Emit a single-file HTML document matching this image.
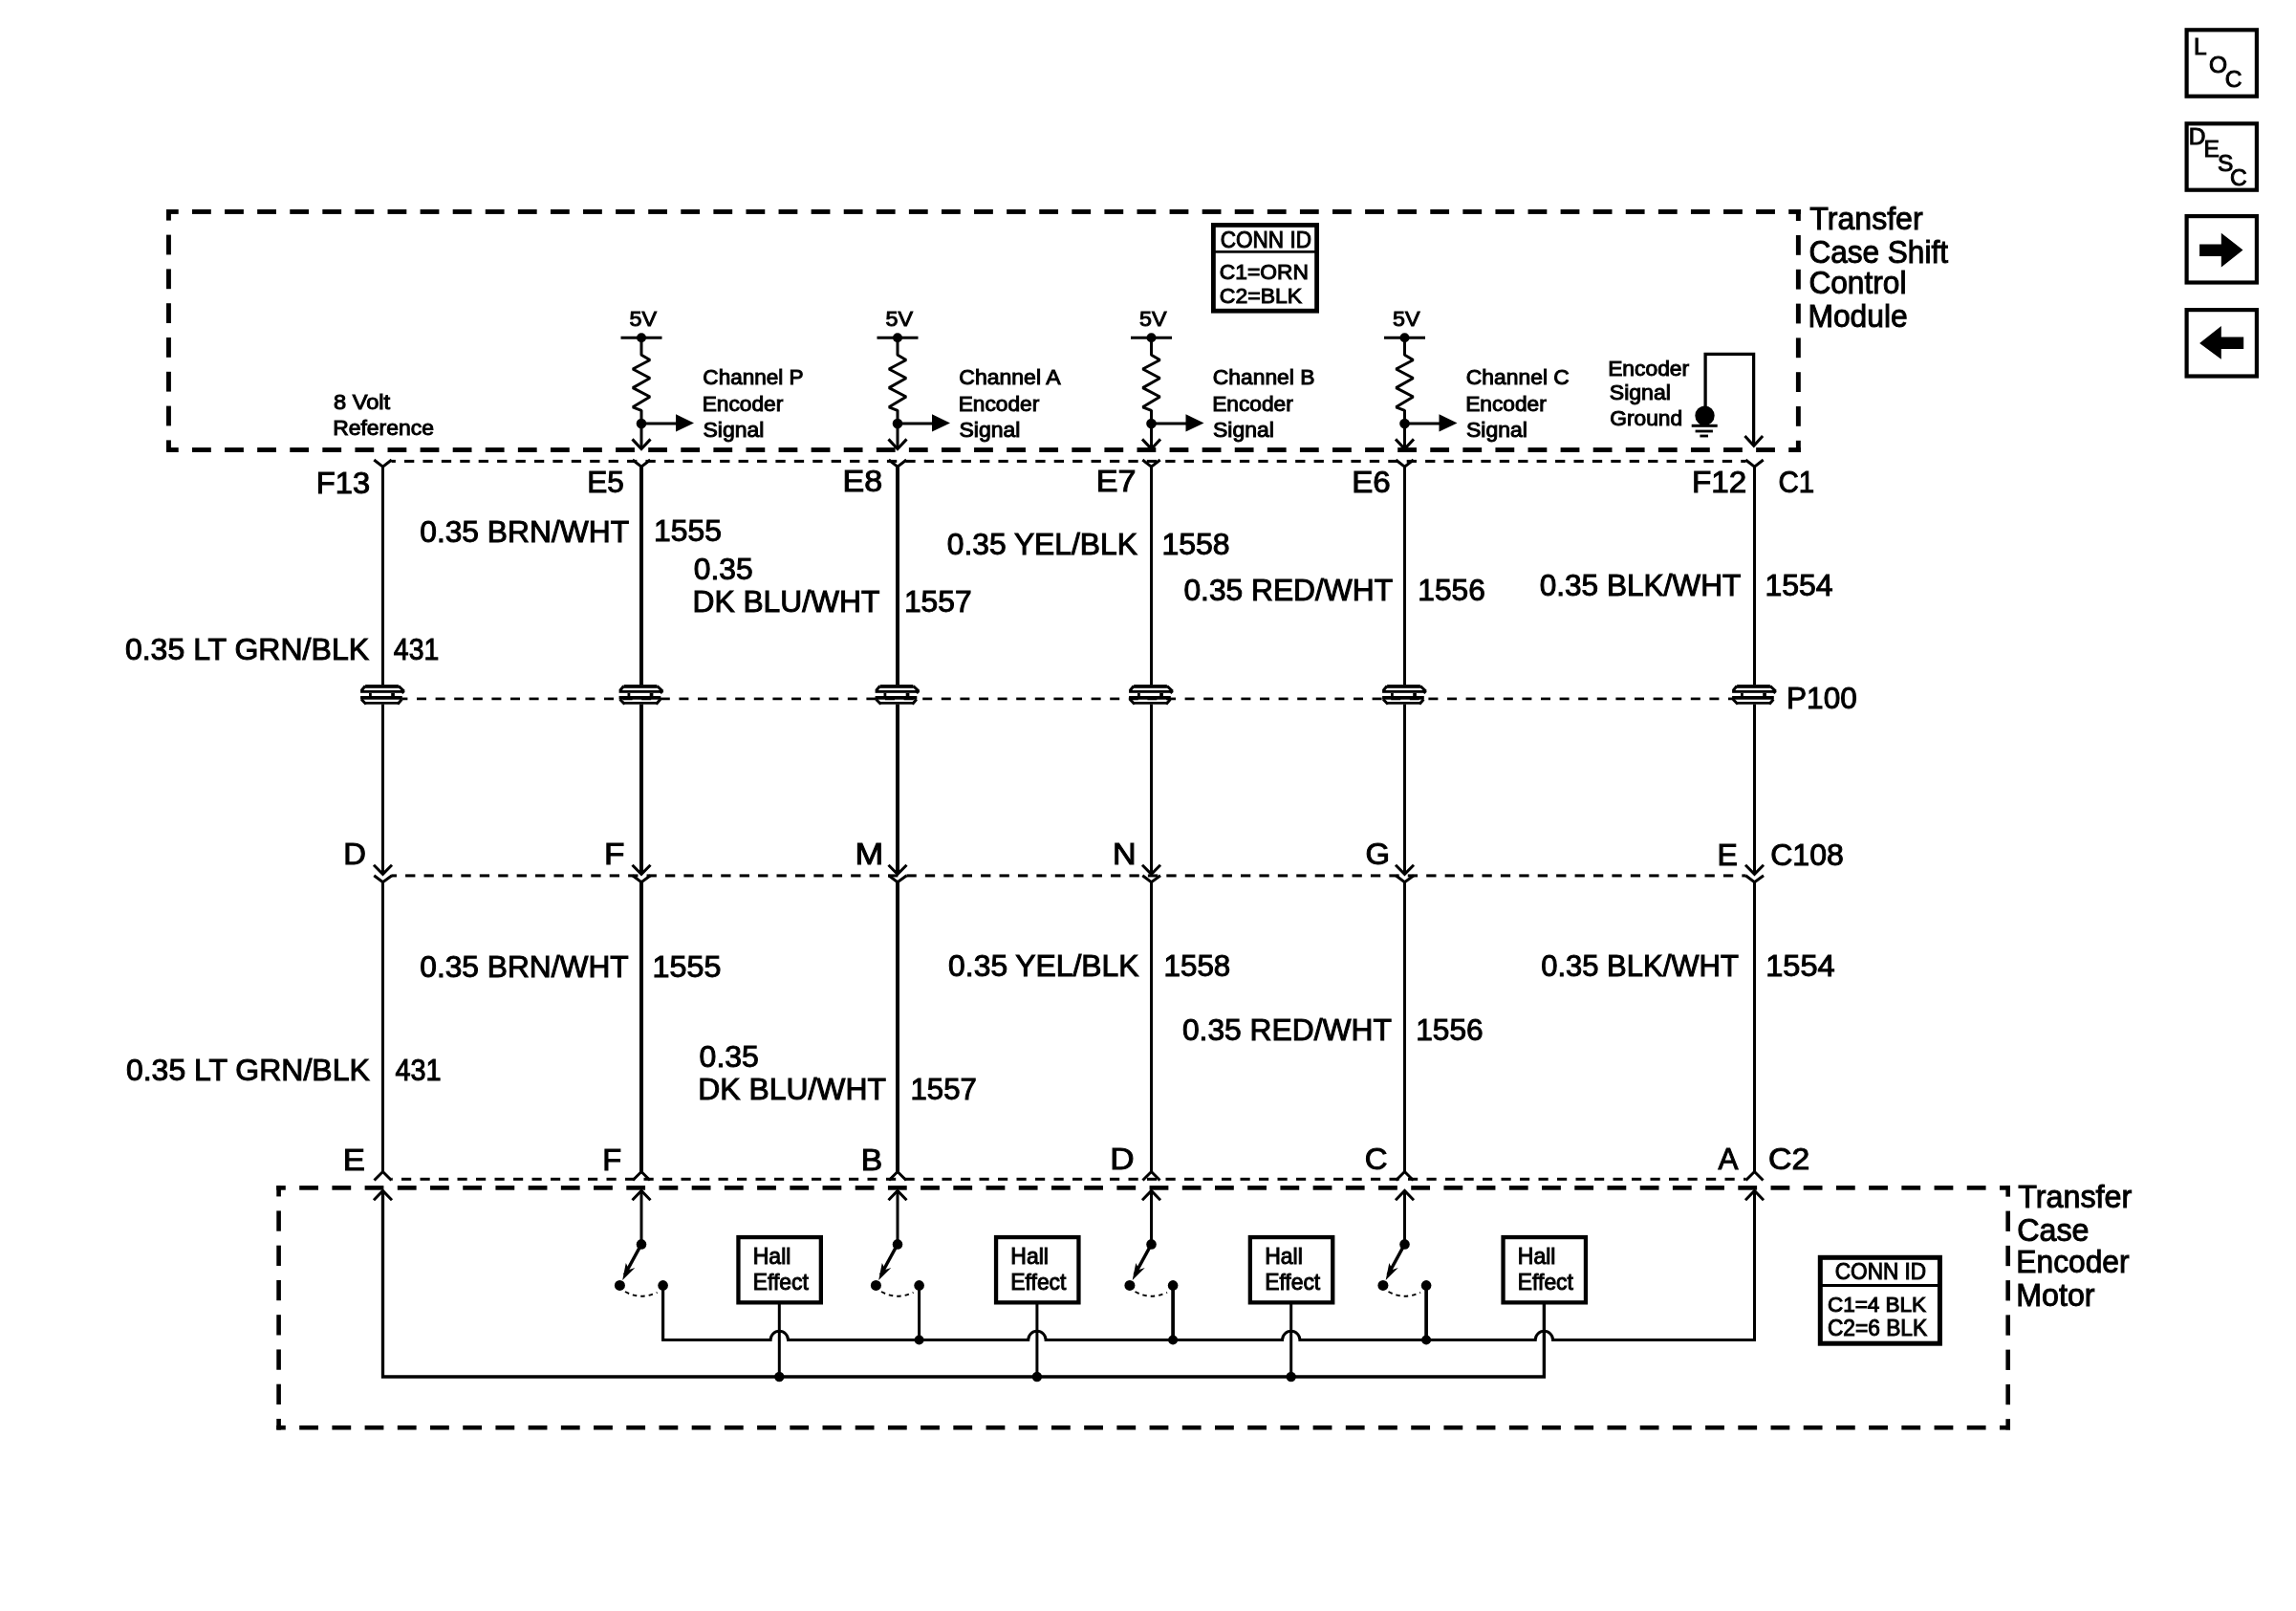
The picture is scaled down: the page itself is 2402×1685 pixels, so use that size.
<!DOCTYPE html>
<html><head><meta charset="utf-8"><style>
html,body{margin:0;padding:0;background:#fff;}
svg{display:block;will-change:transform;}
text{font-family:"Liberation Sans",sans-serif;fill:#000;}
</style></head><body>
<svg width="2402" height="1685" viewBox="0 0 2402 1685">
<rect width="2402" height="1685" fill="#fff"/>
<g stroke="#000" fill="none">
<rect x="2287.6" y="31.3" width="73.3" height="69.4" fill="none" stroke-width="4.2"/>
<rect x="2287.6" y="129.3" width="73.3" height="69.4" fill="none" stroke-width="4.2"/>
<rect x="2287.6" y="226.1" width="73.3" height="69.4" fill="none" stroke-width="4.2"/>
<rect x="2287.6" y="324.1" width="73.3" height="69.4" fill="none" stroke-width="4.2"/>
<text x="2294.94" y="57.3" font-size="24.5">L</text>
<text x="2310.9" y="75.6" font-size="24.5">O</text>
<text x="2327.78" y="91.2" font-size="24.5">C</text>
<text x="2289.74" y="150.6" font-size="24.5">D</text>
<text x="2305.44" y="163.7" font-size="24.5">E</text>
<text x="2320.1" y="178.5" font-size="24.5">S</text>
<text x="2332.97" y="194.2" font-size="24.5">C</text>
<polygon points="2301.1,255.4 2323.8,255.4 2323.8,243.7 2346.5,261.4 2323.8,279.4 2323.8,267.9 2301.1,267.9" fill="#000" stroke="none"/>
<polygon points="2347.2,352.4 2323.8,352.4 2323.8,340.9 2301.1,359.1 2323.8,375.8 2323.8,364.9 2347.2,364.9" fill="#000" stroke="none"/>
<rect x="174" y="219" width="12.71" height="4.9" fill="#000" stroke="none"/>
<rect x="201" y="219" width="19.8" height="4.9" fill="#000" stroke="none"/>
<rect x="235.09" y="219" width="19.8" height="4.9" fill="#000" stroke="none"/>
<rect x="269.17" y="219" width="19.8" height="4.9" fill="#000" stroke="none"/>
<rect x="303.26" y="219" width="19.8" height="4.9" fill="#000" stroke="none"/>
<rect x="337.34" y="219" width="19.8" height="4.9" fill="#000" stroke="none"/>
<rect x="371.43" y="219" width="19.8" height="4.9" fill="#000" stroke="none"/>
<rect x="405.52" y="219" width="19.8" height="4.9" fill="#000" stroke="none"/>
<rect x="439.6" y="219" width="19.8" height="4.9" fill="#000" stroke="none"/>
<rect x="473.69" y="219" width="19.8" height="4.9" fill="#000" stroke="none"/>
<rect x="507.77" y="219" width="19.8" height="4.9" fill="#000" stroke="none"/>
<rect x="541.86" y="219" width="19.8" height="4.9" fill="#000" stroke="none"/>
<rect x="575.95" y="219" width="19.8" height="4.9" fill="#000" stroke="none"/>
<rect x="610.03" y="219" width="19.8" height="4.9" fill="#000" stroke="none"/>
<rect x="644.12" y="219" width="19.8" height="4.9" fill="#000" stroke="none"/>
<rect x="678.2" y="219" width="19.8" height="4.9" fill="#000" stroke="none"/>
<rect x="712.29" y="219" width="19.8" height="4.9" fill="#000" stroke="none"/>
<rect x="746.38" y="219" width="19.8" height="4.9" fill="#000" stroke="none"/>
<rect x="780.46" y="219" width="19.8" height="4.9" fill="#000" stroke="none"/>
<rect x="814.55" y="219" width="19.8" height="4.9" fill="#000" stroke="none"/>
<rect x="848.63" y="219" width="19.8" height="4.9" fill="#000" stroke="none"/>
<rect x="882.72" y="219" width="19.8" height="4.9" fill="#000" stroke="none"/>
<rect x="916.81" y="219" width="19.8" height="4.9" fill="#000" stroke="none"/>
<rect x="950.89" y="219" width="19.8" height="4.9" fill="#000" stroke="none"/>
<rect x="984.98" y="219" width="19.8" height="4.9" fill="#000" stroke="none"/>
<rect x="1019.06" y="219" width="19.8" height="4.9" fill="#000" stroke="none"/>
<rect x="1053.15" y="219" width="19.8" height="4.9" fill="#000" stroke="none"/>
<rect x="1087.24" y="219" width="19.8" height="4.9" fill="#000" stroke="none"/>
<rect x="1121.32" y="219" width="19.8" height="4.9" fill="#000" stroke="none"/>
<rect x="1155.41" y="219" width="19.8" height="4.9" fill="#000" stroke="none"/>
<rect x="1189.49" y="219" width="19.8" height="4.9" fill="#000" stroke="none"/>
<rect x="1223.58" y="219" width="19.8" height="4.9" fill="#000" stroke="none"/>
<rect x="1257.67" y="219" width="19.8" height="4.9" fill="#000" stroke="none"/>
<rect x="1291.75" y="219" width="19.8" height="4.9" fill="#000" stroke="none"/>
<rect x="1325.84" y="219" width="19.8" height="4.9" fill="#000" stroke="none"/>
<rect x="1359.92" y="219" width="19.8" height="4.9" fill="#000" stroke="none"/>
<rect x="1394.01" y="219" width="19.8" height="4.9" fill="#000" stroke="none"/>
<rect x="1428.1" y="219" width="19.8" height="4.9" fill="#000" stroke="none"/>
<rect x="1462.18" y="219" width="19.8" height="4.9" fill="#000" stroke="none"/>
<rect x="1496.27" y="219" width="19.8" height="4.9" fill="#000" stroke="none"/>
<rect x="1530.35" y="219" width="19.8" height="4.9" fill="#000" stroke="none"/>
<rect x="1564.44" y="219" width="19.8" height="4.9" fill="#000" stroke="none"/>
<rect x="1598.53" y="219" width="19.8" height="4.9" fill="#000" stroke="none"/>
<rect x="1632.61" y="219" width="19.8" height="4.9" fill="#000" stroke="none"/>
<rect x="1666.7" y="219" width="19.8" height="4.9" fill="#000" stroke="none"/>
<rect x="1700.78" y="219" width="19.8" height="4.9" fill="#000" stroke="none"/>
<rect x="1734.87" y="219" width="19.8" height="4.9" fill="#000" stroke="none"/>
<rect x="1768.96" y="219" width="19.8" height="4.9" fill="#000" stroke="none"/>
<rect x="1803.04" y="219" width="19.8" height="4.9" fill="#000" stroke="none"/>
<rect x="1837.13" y="219" width="19.8" height="4.9" fill="#000" stroke="none"/>
<rect x="1871.21" y="219" width="12.59" height="4.9" fill="#000" stroke="none"/>
<rect x="174" y="468.1" width="12.71" height="4.9" fill="#000" stroke="none"/>
<rect x="201" y="468.1" width="19.8" height="4.9" fill="#000" stroke="none"/>
<rect x="235.09" y="468.1" width="19.8" height="4.9" fill="#000" stroke="none"/>
<rect x="269.17" y="468.1" width="19.8" height="4.9" fill="#000" stroke="none"/>
<rect x="303.26" y="468.1" width="19.8" height="4.9" fill="#000" stroke="none"/>
<rect x="337.34" y="468.1" width="19.8" height="4.9" fill="#000" stroke="none"/>
<rect x="371.43" y="468.1" width="19.8" height="4.9" fill="#000" stroke="none"/>
<rect x="405.52" y="468.1" width="19.8" height="4.9" fill="#000" stroke="none"/>
<rect x="439.6" y="468.1" width="19.8" height="4.9" fill="#000" stroke="none"/>
<rect x="473.69" y="468.1" width="19.8" height="4.9" fill="#000" stroke="none"/>
<rect x="507.77" y="468.1" width="19.8" height="4.9" fill="#000" stroke="none"/>
<rect x="541.86" y="468.1" width="19.8" height="4.9" fill="#000" stroke="none"/>
<rect x="575.95" y="468.1" width="19.8" height="4.9" fill="#000" stroke="none"/>
<rect x="610.03" y="468.1" width="19.8" height="4.9" fill="#000" stroke="none"/>
<rect x="644.12" y="468.1" width="19.8" height="4.9" fill="#000" stroke="none"/>
<rect x="678.2" y="468.1" width="19.8" height="4.9" fill="#000" stroke="none"/>
<rect x="712.29" y="468.1" width="19.8" height="4.9" fill="#000" stroke="none"/>
<rect x="746.38" y="468.1" width="19.8" height="4.9" fill="#000" stroke="none"/>
<rect x="780.46" y="468.1" width="19.8" height="4.9" fill="#000" stroke="none"/>
<rect x="814.55" y="468.1" width="19.8" height="4.9" fill="#000" stroke="none"/>
<rect x="848.63" y="468.1" width="19.8" height="4.9" fill="#000" stroke="none"/>
<rect x="882.72" y="468.1" width="19.8" height="4.9" fill="#000" stroke="none"/>
<rect x="916.81" y="468.1" width="19.8" height="4.9" fill="#000" stroke="none"/>
<rect x="950.89" y="468.1" width="19.8" height="4.9" fill="#000" stroke="none"/>
<rect x="984.98" y="468.1" width="19.8" height="4.9" fill="#000" stroke="none"/>
<rect x="1019.06" y="468.1" width="19.8" height="4.9" fill="#000" stroke="none"/>
<rect x="1053.15" y="468.1" width="19.8" height="4.9" fill="#000" stroke="none"/>
<rect x="1087.24" y="468.1" width="19.8" height="4.9" fill="#000" stroke="none"/>
<rect x="1121.32" y="468.1" width="19.8" height="4.9" fill="#000" stroke="none"/>
<rect x="1155.41" y="468.1" width="19.8" height="4.9" fill="#000" stroke="none"/>
<rect x="1189.49" y="468.1" width="19.8" height="4.9" fill="#000" stroke="none"/>
<rect x="1223.58" y="468.1" width="19.8" height="4.9" fill="#000" stroke="none"/>
<rect x="1257.67" y="468.1" width="19.8" height="4.9" fill="#000" stroke="none"/>
<rect x="1291.75" y="468.1" width="19.8" height="4.9" fill="#000" stroke="none"/>
<rect x="1325.84" y="468.1" width="19.8" height="4.9" fill="#000" stroke="none"/>
<rect x="1359.92" y="468.1" width="19.8" height="4.9" fill="#000" stroke="none"/>
<rect x="1394.01" y="468.1" width="19.8" height="4.9" fill="#000" stroke="none"/>
<rect x="1428.1" y="468.1" width="19.8" height="4.9" fill="#000" stroke="none"/>
<rect x="1462.18" y="468.1" width="19.8" height="4.9" fill="#000" stroke="none"/>
<rect x="1496.27" y="468.1" width="19.8" height="4.9" fill="#000" stroke="none"/>
<rect x="1530.35" y="468.1" width="19.8" height="4.9" fill="#000" stroke="none"/>
<rect x="1564.44" y="468.1" width="19.8" height="4.9" fill="#000" stroke="none"/>
<rect x="1598.53" y="468.1" width="19.8" height="4.9" fill="#000" stroke="none"/>
<rect x="1632.61" y="468.1" width="19.8" height="4.9" fill="#000" stroke="none"/>
<rect x="1666.7" y="468.1" width="19.8" height="4.9" fill="#000" stroke="none"/>
<rect x="1700.78" y="468.1" width="19.8" height="4.9" fill="#000" stroke="none"/>
<rect x="1734.87" y="468.1" width="19.8" height="4.9" fill="#000" stroke="none"/>
<rect x="1768.96" y="468.1" width="19.8" height="4.9" fill="#000" stroke="none"/>
<rect x="1803.04" y="468.1" width="19.8" height="4.9" fill="#000" stroke="none"/>
<rect x="1837.13" y="468.1" width="19.8" height="4.9" fill="#000" stroke="none"/>
<rect x="1871.21" y="468.1" width="12.59" height="4.9" fill="#000" stroke="none"/>
<rect x="174" y="219" width="4.9" height="11.6" fill="#000" stroke="none"/>
<rect x="174" y="245.6" width="4.9" height="20.8" fill="#000" stroke="none"/>
<rect x="174" y="281.4" width="4.9" height="20.8" fill="#000" stroke="none"/>
<rect x="174" y="317.2" width="4.9" height="20.8" fill="#000" stroke="none"/>
<rect x="174" y="353" width="4.9" height="20.8" fill="#000" stroke="none"/>
<rect x="174" y="388.8" width="4.9" height="20.8" fill="#000" stroke="none"/>
<rect x="174" y="424.6" width="4.9" height="20.8" fill="#000" stroke="none"/>
<rect x="174" y="460.4" width="4.9" height="12.6" fill="#000" stroke="none"/>
<rect x="1878.9" y="219" width="4.9" height="12" fill="#000" stroke="none"/>
<rect x="1878.9" y="246" width="4.9" height="20.8" fill="#000" stroke="none"/>
<rect x="1878.9" y="281.8" width="4.9" height="20.8" fill="#000" stroke="none"/>
<rect x="1878.9" y="317.6" width="4.9" height="20.8" fill="#000" stroke="none"/>
<rect x="1878.9" y="353.4" width="4.9" height="20.8" fill="#000" stroke="none"/>
<rect x="1878.9" y="389.2" width="4.9" height="20.8" fill="#000" stroke="none"/>
<rect x="1878.9" y="425" width="4.9" height="20.8" fill="#000" stroke="none"/>
<rect x="1878.9" y="460.8" width="4.9" height="12.2" fill="#000" stroke="none"/>
<text x="1893.36" y="240.3" font-size="33" textLength="118.26" lengthAdjust="spacingAndGlyphs">Transfer</text>
<text x="1892.42" y="275.3" font-size="33" textLength="145.54" lengthAdjust="spacingAndGlyphs">Case Shift</text>
<text x="1892.42" y="307.2" font-size="33" textLength="102.06" lengthAdjust="spacingAndGlyphs">Control</text>
<text x="1891.46" y="342.2" font-size="33" textLength="104.27" lengthAdjust="spacingAndGlyphs">Module</text>
<rect x="1269.4" y="235.4" width="108.2" height="89.8" fill="none" stroke-width="4.8"/>
<rect x="1269" y="262" width="109" height="2.7" fill="#000" stroke="none"/>
<text x="1276.77" y="258.6" font-size="24" textLength="95.19" lengthAdjust="spacingAndGlyphs">CONN ID</text>
<text x="1275.86" y="291.6" font-size="22.3" textLength="93.07" lengthAdjust="spacingAndGlyphs">C1=ORN</text>
<text x="1275.85" y="317.1" font-size="22.8" textLength="86.34" lengthAdjust="spacingAndGlyphs">C2=BLK</text>
<text x="348.93" y="427.8" font-size="22" textLength="59.23" lengthAdjust="spacingAndGlyphs">8 Volt</text>
<text x="348.17" y="454.9" font-size="22" textLength="105.74" lengthAdjust="spacingAndGlyphs">Reference</text>
<text x="658.57" y="340.9" font-size="22.7" textLength="28.52" lengthAdjust="spacingAndGlyphs">5V</text>
<line x1="649.5" y1="353.3" x2="692.5" y2="353.3" stroke-width="3" stroke-linecap="butt"/>
<circle cx="671" cy="353.3" r="5" fill="#000" stroke="none"/>
<polyline points="671,352 671,371.3 680,376.5 662,386 680,395.5 662,405.6 680,415 662,425.8 671,429.3 671,469.5" fill="none" stroke-width="3" stroke-linejoin="bevel"/>
<circle cx="671" cy="443.1" r="5.3" fill="#000" stroke="none"/>
<line x1="671" y1="443.1" x2="708" y2="443.1" stroke-width="3" stroke-linecap="butt"/>
<polygon points="707,433.3 726,442.5 707,451.6" fill="#000" stroke="none"/>
<polyline points="661.5,459.4 671,469.5 680.5,459.4" fill="none" stroke-width="3" stroke-linejoin="miter"/>
<text x="735.37" y="401.9" font-size="22" textLength="105.26" lengthAdjust="spacingAndGlyphs">Channel P</text>
<text x="734.68" y="430" font-size="22" textLength="84.57" lengthAdjust="spacingAndGlyphs">Encoder</text>
<text x="735.47" y="456.8" font-size="22" textLength="63.93" lengthAdjust="spacingAndGlyphs">Signal</text>
<text x="926.57" y="340.9" font-size="22.7" textLength="28.52" lengthAdjust="spacingAndGlyphs">5V</text>
<line x1="917.5" y1="353.3" x2="960.5" y2="353.3" stroke-width="3" stroke-linecap="butt"/>
<circle cx="939" cy="353.3" r="5" fill="#000" stroke="none"/>
<polyline points="939,352 939,371.3 948,376.5 930,386 948,395.5 930,405.6 948,415 930,425.8 939,429.3 939,469.5" fill="none" stroke-width="3" stroke-linejoin="bevel"/>
<circle cx="939" cy="443.1" r="5.3" fill="#000" stroke="none"/>
<line x1="939" y1="443.1" x2="976" y2="443.1" stroke-width="3" stroke-linecap="butt"/>
<polygon points="975,433.3 994,442.5 975,451.6" fill="#000" stroke="none"/>
<polyline points="929.5,459.4 939,469.5 948.5,459.4" fill="none" stroke-width="3" stroke-linejoin="miter"/>
<text x="1003.35" y="401.9" font-size="22" textLength="106.15" lengthAdjust="spacingAndGlyphs">Channel A</text>
<text x="1002.68" y="430" font-size="22" textLength="84.57" lengthAdjust="spacingAndGlyphs">Encoder</text>
<text x="1003.47" y="456.8" font-size="22" textLength="63.93" lengthAdjust="spacingAndGlyphs">Signal</text>
<text x="1192.07" y="340.9" font-size="22.7" textLength="28.52" lengthAdjust="spacingAndGlyphs">5V</text>
<line x1="1183" y1="353.3" x2="1226" y2="353.3" stroke-width="3" stroke-linecap="butt"/>
<circle cx="1204.5" cy="353.3" r="5" fill="#000" stroke="none"/>
<polyline points="1204.5,352 1204.5,371.3 1213.5,376.5 1195.5,386 1213.5,395.5 1195.5,405.6 1213.5,415 1195.5,425.8 1204.5,429.3 1204.5,469.5" fill="none" stroke-width="3" stroke-linejoin="bevel"/>
<circle cx="1204.5" cy="443.1" r="5.3" fill="#000" stroke="none"/>
<line x1="1204.5" y1="443.1" x2="1241.5" y2="443.1" stroke-width="3" stroke-linecap="butt"/>
<polygon points="1240.5,433.3 1259.5,442.5 1240.5,451.6" fill="#000" stroke="none"/>
<polyline points="1195,459.4 1204.5,469.5 1214,459.4" fill="none" stroke-width="3" stroke-linejoin="miter"/>
<text x="1268.86" y="401.9" font-size="22" textLength="106.58" lengthAdjust="spacingAndGlyphs">Channel B</text>
<text x="1268.18" y="430" font-size="22" textLength="84.57" lengthAdjust="spacingAndGlyphs">Encoder</text>
<text x="1268.97" y="456.8" font-size="22" textLength="63.93" lengthAdjust="spacingAndGlyphs">Signal</text>
<text x="1457.07" y="340.9" font-size="22.7" textLength="28.52" lengthAdjust="spacingAndGlyphs">5V</text>
<line x1="1448" y1="353.3" x2="1491" y2="353.3" stroke-width="3" stroke-linecap="butt"/>
<circle cx="1469.5" cy="353.3" r="5" fill="#000" stroke="none"/>
<polyline points="1469.5,352 1469.5,371.3 1478.5,376.5 1460.5,386 1478.5,395.5 1460.5,405.6 1478.5,415 1460.5,425.8 1469.5,429.3 1469.5,469.5" fill="none" stroke-width="3" stroke-linejoin="bevel"/>
<circle cx="1469.5" cy="443.1" r="5.3" fill="#000" stroke="none"/>
<line x1="1469.5" y1="443.1" x2="1506.5" y2="443.1" stroke-width="3" stroke-linecap="butt"/>
<polygon points="1505.5,433.3 1524.5,442.5 1505.5,451.6" fill="#000" stroke="none"/>
<polyline points="1460,459.4 1469.5,469.5 1479,459.4" fill="none" stroke-width="3" stroke-linejoin="miter"/>
<text x="1533.86" y="401.9" font-size="22" textLength="107.95" lengthAdjust="spacingAndGlyphs">Channel C</text>
<text x="1533.18" y="430" font-size="22" textLength="84.57" lengthAdjust="spacingAndGlyphs">Encoder</text>
<text x="1533.97" y="456.8" font-size="22" textLength="63.93" lengthAdjust="spacingAndGlyphs">Signal</text>
<path d="M1784.1,436 V370.3 H1834.6 V466" fill="none" stroke-width="3.3"/>
<polyline points="1825.4,456 1834.8,466.3 1844.1,456" fill="none" stroke-width="3" stroke-linejoin="miter"/>
<circle cx="1783.5" cy="434.8" r="10.2" fill="#000" stroke="none"/>
<rect x="1769.7" y="443.8" width="27" height="3" fill="#000" stroke="none"/>
<rect x="1773.6" y="449.6" width="18.3" height="2.8" fill="#000" stroke="none"/>
<rect x="1778.4" y="454.6" width="8.6" height="2.8" fill="#000" stroke="none"/>
<text x="1682.17" y="393.4" font-size="22" textLength="84.98" lengthAdjust="spacingAndGlyphs">Encoder</text>
<text x="1683.76" y="418.4" font-size="22" textLength="64.14" lengthAdjust="spacingAndGlyphs">Signal</text>
<text x="1684.36" y="445.3" font-size="22" textLength="75.72" lengthAdjust="spacingAndGlyphs">Ground</text>
<rect x="409.5" y="480.9" width="4.38" height="3" fill="#000" stroke="none"/>
<rect x="423" y="480.9" width="10.3" height="3" fill="#000" stroke="none"/>
<rect x="442.42" y="480.9" width="10.3" height="3" fill="#000" stroke="none"/>
<rect x="461.84" y="480.9" width="10.3" height="3" fill="#000" stroke="none"/>
<rect x="481.26" y="480.9" width="10.3" height="3" fill="#000" stroke="none"/>
<rect x="500.68" y="480.9" width="10.3" height="3" fill="#000" stroke="none"/>
<rect x="520.1" y="480.9" width="10.3" height="3" fill="#000" stroke="none"/>
<rect x="539.52" y="480.9" width="10.3" height="3" fill="#000" stroke="none"/>
<rect x="558.94" y="480.9" width="10.3" height="3" fill="#000" stroke="none"/>
<rect x="578.36" y="480.9" width="10.3" height="3" fill="#000" stroke="none"/>
<rect x="597.78" y="480.9" width="10.3" height="3" fill="#000" stroke="none"/>
<rect x="617.2" y="480.9" width="10.3" height="3" fill="#000" stroke="none"/>
<rect x="636.62" y="480.9" width="10.3" height="3" fill="#000" stroke="none"/>
<rect x="656.04" y="480.9" width="10.3" height="3" fill="#000" stroke="none"/>
<rect x="675.46" y="480.9" width="10.3" height="3" fill="#000" stroke="none"/>
<rect x="694.88" y="480.9" width="10.3" height="3" fill="#000" stroke="none"/>
<rect x="714.3" y="480.9" width="10.3" height="3" fill="#000" stroke="none"/>
<rect x="733.72" y="480.9" width="10.3" height="3" fill="#000" stroke="none"/>
<rect x="753.14" y="480.9" width="10.3" height="3" fill="#000" stroke="none"/>
<rect x="772.56" y="480.9" width="10.3" height="3" fill="#000" stroke="none"/>
<rect x="791.98" y="480.9" width="10.3" height="3" fill="#000" stroke="none"/>
<rect x="811.4" y="480.9" width="10.3" height="3" fill="#000" stroke="none"/>
<rect x="830.82" y="480.9" width="10.3" height="3" fill="#000" stroke="none"/>
<rect x="850.24" y="480.9" width="10.3" height="3" fill="#000" stroke="none"/>
<rect x="869.66" y="480.9" width="10.3" height="3" fill="#000" stroke="none"/>
<rect x="889.08" y="480.9" width="10.3" height="3" fill="#000" stroke="none"/>
<rect x="908.5" y="480.9" width="10.3" height="3" fill="#000" stroke="none"/>
<rect x="927.92" y="480.9" width="10.3" height="3" fill="#000" stroke="none"/>
<rect x="947.34" y="480.9" width="10.3" height="3" fill="#000" stroke="none"/>
<rect x="966.76" y="480.9" width="10.3" height="3" fill="#000" stroke="none"/>
<rect x="986.18" y="480.9" width="10.3" height="3" fill="#000" stroke="none"/>
<rect x="1005.6" y="480.9" width="10.3" height="3" fill="#000" stroke="none"/>
<rect x="1025.02" y="480.9" width="10.3" height="3" fill="#000" stroke="none"/>
<rect x="1044.44" y="480.9" width="10.3" height="3" fill="#000" stroke="none"/>
<rect x="1063.86" y="480.9" width="10.3" height="3" fill="#000" stroke="none"/>
<rect x="1083.28" y="480.9" width="10.3" height="3" fill="#000" stroke="none"/>
<rect x="1102.7" y="480.9" width="10.3" height="3" fill="#000" stroke="none"/>
<rect x="1122.12" y="480.9" width="10.3" height="3" fill="#000" stroke="none"/>
<rect x="1141.54" y="480.9" width="10.3" height="3" fill="#000" stroke="none"/>
<rect x="1160.96" y="480.9" width="10.3" height="3" fill="#000" stroke="none"/>
<rect x="1180.38" y="480.9" width="10.3" height="3" fill="#000" stroke="none"/>
<rect x="1199.8" y="480.9" width="10.3" height="3" fill="#000" stroke="none"/>
<rect x="1219.22" y="480.9" width="10.3" height="3" fill="#000" stroke="none"/>
<rect x="1238.64" y="480.9" width="10.3" height="3" fill="#000" stroke="none"/>
<rect x="1258.06" y="480.9" width="10.3" height="3" fill="#000" stroke="none"/>
<rect x="1277.48" y="480.9" width="10.3" height="3" fill="#000" stroke="none"/>
<rect x="1296.9" y="480.9" width="10.3" height="3" fill="#000" stroke="none"/>
<rect x="1316.32" y="480.9" width="10.3" height="3" fill="#000" stroke="none"/>
<rect x="1335.74" y="480.9" width="10.3" height="3" fill="#000" stroke="none"/>
<rect x="1355.16" y="480.9" width="10.3" height="3" fill="#000" stroke="none"/>
<rect x="1374.58" y="480.9" width="10.3" height="3" fill="#000" stroke="none"/>
<rect x="1394" y="480.9" width="10.3" height="3" fill="#000" stroke="none"/>
<rect x="1413.42" y="480.9" width="10.3" height="3" fill="#000" stroke="none"/>
<rect x="1432.84" y="480.9" width="10.3" height="3" fill="#000" stroke="none"/>
<rect x="1452.26" y="480.9" width="10.3" height="3" fill="#000" stroke="none"/>
<rect x="1471.68" y="480.9" width="10.3" height="3" fill="#000" stroke="none"/>
<rect x="1491.1" y="480.9" width="10.3" height="3" fill="#000" stroke="none"/>
<rect x="1510.52" y="480.9" width="10.3" height="3" fill="#000" stroke="none"/>
<rect x="1529.94" y="480.9" width="10.3" height="3" fill="#000" stroke="none"/>
<rect x="1549.36" y="480.9" width="10.3" height="3" fill="#000" stroke="none"/>
<rect x="1568.78" y="480.9" width="10.3" height="3" fill="#000" stroke="none"/>
<rect x="1588.2" y="480.9" width="10.3" height="3" fill="#000" stroke="none"/>
<rect x="1607.62" y="480.9" width="10.3" height="3" fill="#000" stroke="none"/>
<rect x="1627.04" y="480.9" width="10.3" height="3" fill="#000" stroke="none"/>
<rect x="1646.46" y="480.9" width="10.3" height="3" fill="#000" stroke="none"/>
<rect x="1665.88" y="480.9" width="10.3" height="3" fill="#000" stroke="none"/>
<rect x="1685.3" y="480.9" width="10.3" height="3" fill="#000" stroke="none"/>
<rect x="1704.72" y="480.9" width="10.3" height="3" fill="#000" stroke="none"/>
<rect x="1724.14" y="480.9" width="10.3" height="3" fill="#000" stroke="none"/>
<rect x="1743.56" y="480.9" width="10.3" height="3" fill="#000" stroke="none"/>
<rect x="1762.98" y="480.9" width="10.3" height="3" fill="#000" stroke="none"/>
<rect x="1782.4" y="480.9" width="10.3" height="3" fill="#000" stroke="none"/>
<rect x="1801.82" y="480.9" width="10.3" height="3" fill="#000" stroke="none"/>
<rect x="1821.24" y="480.9" width="5.26" height="3" fill="#000" stroke="none"/>
<rect x="420.5" y="729.55" width="5.9" height="2.7" fill="#000" stroke="none"/>
<rect x="436" y="729.55" width="10" height="2.7" fill="#000" stroke="none"/>
<rect x="455.6" y="729.55" width="10" height="2.7" fill="#000" stroke="none"/>
<rect x="475.2" y="729.55" width="10" height="2.7" fill="#000" stroke="none"/>
<rect x="494.8" y="729.55" width="10" height="2.7" fill="#000" stroke="none"/>
<rect x="514.4" y="729.55" width="10" height="2.7" fill="#000" stroke="none"/>
<rect x="534" y="729.55" width="10" height="2.7" fill="#000" stroke="none"/>
<rect x="553.6" y="729.55" width="10" height="2.7" fill="#000" stroke="none"/>
<rect x="573.2" y="729.55" width="10" height="2.7" fill="#000" stroke="none"/>
<rect x="592.8" y="729.55" width="10" height="2.7" fill="#000" stroke="none"/>
<rect x="612.4" y="729.55" width="10" height="2.7" fill="#000" stroke="none"/>
<rect x="632" y="729.55" width="10" height="2.7" fill="#000" stroke="none"/>
<rect x="651.6" y="729.55" width="10" height="2.7" fill="#000" stroke="none"/>
<rect x="671.2" y="729.55" width="10" height="2.7" fill="#000" stroke="none"/>
<rect x="690.8" y="729.55" width="10" height="2.7" fill="#000" stroke="none"/>
<rect x="710.4" y="729.55" width="10" height="2.7" fill="#000" stroke="none"/>
<rect x="730" y="729.55" width="10" height="2.7" fill="#000" stroke="none"/>
<rect x="749.6" y="729.55" width="10" height="2.7" fill="#000" stroke="none"/>
<rect x="769.2" y="729.55" width="10" height="2.7" fill="#000" stroke="none"/>
<rect x="788.8" y="729.55" width="10" height="2.7" fill="#000" stroke="none"/>
<rect x="808.4" y="729.55" width="10" height="2.7" fill="#000" stroke="none"/>
<rect x="828" y="729.55" width="10" height="2.7" fill="#000" stroke="none"/>
<rect x="847.6" y="729.55" width="10" height="2.7" fill="#000" stroke="none"/>
<rect x="867.2" y="729.55" width="10" height="2.7" fill="#000" stroke="none"/>
<rect x="886.8" y="729.55" width="10" height="2.7" fill="#000" stroke="none"/>
<rect x="906.4" y="729.55" width="10" height="2.7" fill="#000" stroke="none"/>
<rect x="926" y="729.55" width="10" height="2.7" fill="#000" stroke="none"/>
<rect x="945.6" y="729.55" width="10" height="2.7" fill="#000" stroke="none"/>
<rect x="965.2" y="729.55" width="10" height="2.7" fill="#000" stroke="none"/>
<rect x="984.8" y="729.55" width="10" height="2.7" fill="#000" stroke="none"/>
<rect x="1004.4" y="729.55" width="10" height="2.7" fill="#000" stroke="none"/>
<rect x="1024" y="729.55" width="10" height="2.7" fill="#000" stroke="none"/>
<rect x="1043.6" y="729.55" width="10" height="2.7" fill="#000" stroke="none"/>
<rect x="1063.2" y="729.55" width="10" height="2.7" fill="#000" stroke="none"/>
<rect x="1082.8" y="729.55" width="10" height="2.7" fill="#000" stroke="none"/>
<rect x="1102.4" y="729.55" width="10" height="2.7" fill="#000" stroke="none"/>
<rect x="1122" y="729.55" width="10" height="2.7" fill="#000" stroke="none"/>
<rect x="1141.6" y="729.55" width="10" height="2.7" fill="#000" stroke="none"/>
<rect x="1161.2" y="729.55" width="10" height="2.7" fill="#000" stroke="none"/>
<rect x="1180.8" y="729.55" width="10" height="2.7" fill="#000" stroke="none"/>
<rect x="1200.4" y="729.55" width="10" height="2.7" fill="#000" stroke="none"/>
<rect x="1220" y="729.55" width="10" height="2.7" fill="#000" stroke="none"/>
<rect x="1239.6" y="729.55" width="10" height="2.7" fill="#000" stroke="none"/>
<rect x="1259.2" y="729.55" width="10" height="2.7" fill="#000" stroke="none"/>
<rect x="1278.8" y="729.55" width="10" height="2.7" fill="#000" stroke="none"/>
<rect x="1298.4" y="729.55" width="10" height="2.7" fill="#000" stroke="none"/>
<rect x="1318" y="729.55" width="10" height="2.7" fill="#000" stroke="none"/>
<rect x="1337.6" y="729.55" width="10" height="2.7" fill="#000" stroke="none"/>
<rect x="1357.2" y="729.55" width="10" height="2.7" fill="#000" stroke="none"/>
<rect x="1376.8" y="729.55" width="10" height="2.7" fill="#000" stroke="none"/>
<rect x="1396.4" y="729.55" width="10" height="2.7" fill="#000" stroke="none"/>
<rect x="1416" y="729.55" width="10" height="2.7" fill="#000" stroke="none"/>
<rect x="1435.6" y="729.55" width="10" height="2.7" fill="#000" stroke="none"/>
<rect x="1455.2" y="729.55" width="10" height="2.7" fill="#000" stroke="none"/>
<rect x="1474.8" y="729.55" width="10" height="2.7" fill="#000" stroke="none"/>
<rect x="1494.4" y="729.55" width="10" height="2.7" fill="#000" stroke="none"/>
<rect x="1514" y="729.55" width="10" height="2.7" fill="#000" stroke="none"/>
<rect x="1533.6" y="729.55" width="10" height="2.7" fill="#000" stroke="none"/>
<rect x="1553.2" y="729.55" width="10" height="2.7" fill="#000" stroke="none"/>
<rect x="1572.8" y="729.55" width="10" height="2.7" fill="#000" stroke="none"/>
<rect x="1592.4" y="729.55" width="10" height="2.7" fill="#000" stroke="none"/>
<rect x="1612" y="729.55" width="10" height="2.7" fill="#000" stroke="none"/>
<rect x="1631.6" y="729.55" width="10" height="2.7" fill="#000" stroke="none"/>
<rect x="1651.2" y="729.55" width="10" height="2.7" fill="#000" stroke="none"/>
<rect x="1670.8" y="729.55" width="10" height="2.7" fill="#000" stroke="none"/>
<rect x="1690.4" y="729.55" width="10" height="2.7" fill="#000" stroke="none"/>
<rect x="1710" y="729.55" width="10" height="2.7" fill="#000" stroke="none"/>
<rect x="1729.6" y="729.55" width="10" height="2.7" fill="#000" stroke="none"/>
<rect x="1749.2" y="729.55" width="10" height="2.7" fill="#000" stroke="none"/>
<rect x="1768.8" y="729.55" width="10" height="2.7" fill="#000" stroke="none"/>
<rect x="1788.4" y="729.55" width="10" height="2.7" fill="#000" stroke="none"/>
<rect x="1808" y="729.55" width="5.5" height="2.7" fill="#000" stroke="none"/>
<rect x="409.5" y="914.4" width="5.48" height="3" fill="#000" stroke="none"/>
<rect x="424.1" y="914.4" width="10.3" height="3" fill="#000" stroke="none"/>
<rect x="443.52" y="914.4" width="10.3" height="3" fill="#000" stroke="none"/>
<rect x="462.94" y="914.4" width="10.3" height="3" fill="#000" stroke="none"/>
<rect x="482.36" y="914.4" width="10.3" height="3" fill="#000" stroke="none"/>
<rect x="501.78" y="914.4" width="10.3" height="3" fill="#000" stroke="none"/>
<rect x="521.2" y="914.4" width="10.3" height="3" fill="#000" stroke="none"/>
<rect x="540.62" y="914.4" width="10.3" height="3" fill="#000" stroke="none"/>
<rect x="560.04" y="914.4" width="10.3" height="3" fill="#000" stroke="none"/>
<rect x="579.46" y="914.4" width="10.3" height="3" fill="#000" stroke="none"/>
<rect x="598.88" y="914.4" width="10.3" height="3" fill="#000" stroke="none"/>
<rect x="618.3" y="914.4" width="10.3" height="3" fill="#000" stroke="none"/>
<rect x="637.72" y="914.4" width="10.3" height="3" fill="#000" stroke="none"/>
<rect x="657.14" y="914.4" width="10.3" height="3" fill="#000" stroke="none"/>
<rect x="676.56" y="914.4" width="10.3" height="3" fill="#000" stroke="none"/>
<rect x="695.98" y="914.4" width="10.3" height="3" fill="#000" stroke="none"/>
<rect x="715.4" y="914.4" width="10.3" height="3" fill="#000" stroke="none"/>
<rect x="734.82" y="914.4" width="10.3" height="3" fill="#000" stroke="none"/>
<rect x="754.24" y="914.4" width="10.3" height="3" fill="#000" stroke="none"/>
<rect x="773.66" y="914.4" width="10.3" height="3" fill="#000" stroke="none"/>
<rect x="793.08" y="914.4" width="10.3" height="3" fill="#000" stroke="none"/>
<rect x="812.5" y="914.4" width="10.3" height="3" fill="#000" stroke="none"/>
<rect x="831.92" y="914.4" width="10.3" height="3" fill="#000" stroke="none"/>
<rect x="851.34" y="914.4" width="10.3" height="3" fill="#000" stroke="none"/>
<rect x="870.76" y="914.4" width="10.3" height="3" fill="#000" stroke="none"/>
<rect x="890.18" y="914.4" width="10.3" height="3" fill="#000" stroke="none"/>
<rect x="909.6" y="914.4" width="10.3" height="3" fill="#000" stroke="none"/>
<rect x="929.02" y="914.4" width="10.3" height="3" fill="#000" stroke="none"/>
<rect x="948.44" y="914.4" width="10.3" height="3" fill="#000" stroke="none"/>
<rect x="967.86" y="914.4" width="10.3" height="3" fill="#000" stroke="none"/>
<rect x="987.28" y="914.4" width="10.3" height="3" fill="#000" stroke="none"/>
<rect x="1006.7" y="914.4" width="10.3" height="3" fill="#000" stroke="none"/>
<rect x="1026.12" y="914.4" width="10.3" height="3" fill="#000" stroke="none"/>
<rect x="1045.54" y="914.4" width="10.3" height="3" fill="#000" stroke="none"/>
<rect x="1064.96" y="914.4" width="10.3" height="3" fill="#000" stroke="none"/>
<rect x="1084.38" y="914.4" width="10.3" height="3" fill="#000" stroke="none"/>
<rect x="1103.8" y="914.4" width="10.3" height="3" fill="#000" stroke="none"/>
<rect x="1123.22" y="914.4" width="10.3" height="3" fill="#000" stroke="none"/>
<rect x="1142.64" y="914.4" width="10.3" height="3" fill="#000" stroke="none"/>
<rect x="1162.06" y="914.4" width="10.3" height="3" fill="#000" stroke="none"/>
<rect x="1181.48" y="914.4" width="10.3" height="3" fill="#000" stroke="none"/>
<rect x="1200.9" y="914.4" width="10.3" height="3" fill="#000" stroke="none"/>
<rect x="1220.32" y="914.4" width="10.3" height="3" fill="#000" stroke="none"/>
<rect x="1239.74" y="914.4" width="10.3" height="3" fill="#000" stroke="none"/>
<rect x="1259.16" y="914.4" width="10.3" height="3" fill="#000" stroke="none"/>
<rect x="1278.58" y="914.4" width="10.3" height="3" fill="#000" stroke="none"/>
<rect x="1298" y="914.4" width="10.3" height="3" fill="#000" stroke="none"/>
<rect x="1317.42" y="914.4" width="10.3" height="3" fill="#000" stroke="none"/>
<rect x="1336.84" y="914.4" width="10.3" height="3" fill="#000" stroke="none"/>
<rect x="1356.26" y="914.4" width="10.3" height="3" fill="#000" stroke="none"/>
<rect x="1375.68" y="914.4" width="10.3" height="3" fill="#000" stroke="none"/>
<rect x="1395.1" y="914.4" width="10.3" height="3" fill="#000" stroke="none"/>
<rect x="1414.52" y="914.4" width="10.3" height="3" fill="#000" stroke="none"/>
<rect x="1433.94" y="914.4" width="10.3" height="3" fill="#000" stroke="none"/>
<rect x="1453.36" y="914.4" width="10.3" height="3" fill="#000" stroke="none"/>
<rect x="1472.78" y="914.4" width="10.3" height="3" fill="#000" stroke="none"/>
<rect x="1492.2" y="914.4" width="10.3" height="3" fill="#000" stroke="none"/>
<rect x="1511.62" y="914.4" width="10.3" height="3" fill="#000" stroke="none"/>
<rect x="1531.04" y="914.4" width="10.3" height="3" fill="#000" stroke="none"/>
<rect x="1550.46" y="914.4" width="10.3" height="3" fill="#000" stroke="none"/>
<rect x="1569.88" y="914.4" width="10.3" height="3" fill="#000" stroke="none"/>
<rect x="1589.3" y="914.4" width="10.3" height="3" fill="#000" stroke="none"/>
<rect x="1608.72" y="914.4" width="10.3" height="3" fill="#000" stroke="none"/>
<rect x="1628.14" y="914.4" width="10.3" height="3" fill="#000" stroke="none"/>
<rect x="1647.56" y="914.4" width="10.3" height="3" fill="#000" stroke="none"/>
<rect x="1666.98" y="914.4" width="10.3" height="3" fill="#000" stroke="none"/>
<rect x="1686.4" y="914.4" width="10.3" height="3" fill="#000" stroke="none"/>
<rect x="1705.82" y="914.4" width="10.3" height="3" fill="#000" stroke="none"/>
<rect x="1725.24" y="914.4" width="10.3" height="3" fill="#000" stroke="none"/>
<rect x="1744.66" y="914.4" width="10.3" height="3" fill="#000" stroke="none"/>
<rect x="1764.08" y="914.4" width="10.3" height="3" fill="#000" stroke="none"/>
<rect x="1783.5" y="914.4" width="10.3" height="3" fill="#000" stroke="none"/>
<rect x="1802.92" y="914.4" width="10.3" height="3" fill="#000" stroke="none"/>
<rect x="1822.34" y="914.4" width="4.16" height="3" fill="#000" stroke="none"/>
<rect x="409.5" y="1231.8" width="1.2" height="3" fill="#000" stroke="none"/>
<rect x="420" y="1231.8" width="10.2" height="3" fill="#000" stroke="none"/>
<rect x="439.5" y="1231.8" width="10.2" height="3" fill="#000" stroke="none"/>
<rect x="459" y="1231.8" width="10.2" height="3" fill="#000" stroke="none"/>
<rect x="478.5" y="1231.8" width="10.2" height="3" fill="#000" stroke="none"/>
<rect x="498" y="1231.8" width="10.2" height="3" fill="#000" stroke="none"/>
<rect x="517.5" y="1231.8" width="10.2" height="3" fill="#000" stroke="none"/>
<rect x="537" y="1231.8" width="10.2" height="3" fill="#000" stroke="none"/>
<rect x="556.5" y="1231.8" width="10.2" height="3" fill="#000" stroke="none"/>
<rect x="576" y="1231.8" width="10.2" height="3" fill="#000" stroke="none"/>
<rect x="595.5" y="1231.8" width="10.2" height="3" fill="#000" stroke="none"/>
<rect x="615" y="1231.8" width="10.2" height="3" fill="#000" stroke="none"/>
<rect x="634.5" y="1231.8" width="10.2" height="3" fill="#000" stroke="none"/>
<rect x="654" y="1231.8" width="10.2" height="3" fill="#000" stroke="none"/>
<rect x="673.5" y="1231.8" width="10.2" height="3" fill="#000" stroke="none"/>
<rect x="693" y="1231.8" width="10.2" height="3" fill="#000" stroke="none"/>
<rect x="712.5" y="1231.8" width="10.2" height="3" fill="#000" stroke="none"/>
<rect x="732" y="1231.8" width="10.2" height="3" fill="#000" stroke="none"/>
<rect x="751.5" y="1231.8" width="10.2" height="3" fill="#000" stroke="none"/>
<rect x="771" y="1231.8" width="10.2" height="3" fill="#000" stroke="none"/>
<rect x="790.5" y="1231.8" width="10.2" height="3" fill="#000" stroke="none"/>
<rect x="810" y="1231.8" width="10.2" height="3" fill="#000" stroke="none"/>
<rect x="829.5" y="1231.8" width="10.2" height="3" fill="#000" stroke="none"/>
<rect x="849" y="1231.8" width="10.2" height="3" fill="#000" stroke="none"/>
<rect x="868.5" y="1231.8" width="10.2" height="3" fill="#000" stroke="none"/>
<rect x="888" y="1231.8" width="10.2" height="3" fill="#000" stroke="none"/>
<rect x="907.5" y="1231.8" width="10.2" height="3" fill="#000" stroke="none"/>
<rect x="927" y="1231.8" width="10.2" height="3" fill="#000" stroke="none"/>
<rect x="946.5" y="1231.8" width="10.2" height="3" fill="#000" stroke="none"/>
<rect x="966" y="1231.8" width="10.2" height="3" fill="#000" stroke="none"/>
<rect x="985.5" y="1231.8" width="10.2" height="3" fill="#000" stroke="none"/>
<rect x="1005" y="1231.8" width="10.2" height="3" fill="#000" stroke="none"/>
<rect x="1024.5" y="1231.8" width="10.2" height="3" fill="#000" stroke="none"/>
<rect x="1044" y="1231.8" width="10.2" height="3" fill="#000" stroke="none"/>
<rect x="1063.5" y="1231.8" width="10.2" height="3" fill="#000" stroke="none"/>
<rect x="1083" y="1231.8" width="10.2" height="3" fill="#000" stroke="none"/>
<rect x="1102.5" y="1231.8" width="10.2" height="3" fill="#000" stroke="none"/>
<rect x="1122" y="1231.8" width="10.2" height="3" fill="#000" stroke="none"/>
<rect x="1141.5" y="1231.8" width="10.2" height="3" fill="#000" stroke="none"/>
<rect x="1161" y="1231.8" width="10.2" height="3" fill="#000" stroke="none"/>
<rect x="1180.5" y="1231.8" width="10.2" height="3" fill="#000" stroke="none"/>
<rect x="1200" y="1231.8" width="10.2" height="3" fill="#000" stroke="none"/>
<rect x="1219.5" y="1231.8" width="10.2" height="3" fill="#000" stroke="none"/>
<rect x="1239" y="1231.8" width="10.2" height="3" fill="#000" stroke="none"/>
<rect x="1258.5" y="1231.8" width="10.2" height="3" fill="#000" stroke="none"/>
<rect x="1278" y="1231.8" width="10.2" height="3" fill="#000" stroke="none"/>
<rect x="1297.5" y="1231.8" width="10.2" height="3" fill="#000" stroke="none"/>
<rect x="1317" y="1231.8" width="10.2" height="3" fill="#000" stroke="none"/>
<rect x="1336.5" y="1231.8" width="10.2" height="3" fill="#000" stroke="none"/>
<rect x="1356" y="1231.8" width="10.2" height="3" fill="#000" stroke="none"/>
<rect x="1375.5" y="1231.8" width="10.2" height="3" fill="#000" stroke="none"/>
<rect x="1395" y="1231.8" width="10.2" height="3" fill="#000" stroke="none"/>
<rect x="1414.5" y="1231.8" width="10.2" height="3" fill="#000" stroke="none"/>
<rect x="1434" y="1231.8" width="10.2" height="3" fill="#000" stroke="none"/>
<rect x="1453.5" y="1231.8" width="10.2" height="3" fill="#000" stroke="none"/>
<rect x="1473" y="1231.8" width="10.2" height="3" fill="#000" stroke="none"/>
<rect x="1492.5" y="1231.8" width="10.2" height="3" fill="#000" stroke="none"/>
<rect x="1512" y="1231.8" width="10.2" height="3" fill="#000" stroke="none"/>
<rect x="1531.5" y="1231.8" width="10.2" height="3" fill="#000" stroke="none"/>
<rect x="1551" y="1231.8" width="10.2" height="3" fill="#000" stroke="none"/>
<rect x="1570.5" y="1231.8" width="10.2" height="3" fill="#000" stroke="none"/>
<rect x="1590" y="1231.8" width="10.2" height="3" fill="#000" stroke="none"/>
<rect x="1609.5" y="1231.8" width="10.2" height="3" fill="#000" stroke="none"/>
<rect x="1629" y="1231.8" width="10.2" height="3" fill="#000" stroke="none"/>
<rect x="1648.5" y="1231.8" width="10.2" height="3" fill="#000" stroke="none"/>
<rect x="1668" y="1231.8" width="10.2" height="3" fill="#000" stroke="none"/>
<rect x="1687.5" y="1231.8" width="10.2" height="3" fill="#000" stroke="none"/>
<rect x="1707" y="1231.8" width="10.2" height="3" fill="#000" stroke="none"/>
<rect x="1726.5" y="1231.8" width="10.2" height="3" fill="#000" stroke="none"/>
<rect x="1746" y="1231.8" width="10.2" height="3" fill="#000" stroke="none"/>
<rect x="1765.5" y="1231.8" width="10.2" height="3" fill="#000" stroke="none"/>
<rect x="1785" y="1231.8" width="10.2" height="3" fill="#000" stroke="none"/>
<rect x="1804.5" y="1231.8" width="10.2" height="3" fill="#000" stroke="none"/>
<rect x="1824" y="1231.8" width="2.5" height="3" fill="#000" stroke="none"/>
<polyline points="391.3,481 400.5,488.2 409.7,481" fill="none" stroke-width="3" stroke-linejoin="miter"/>
<line x1="400.5" y1="488" x2="400.5" y2="716.5" stroke-width="3" stroke-linecap="butt"/>
<line x1="400.5" y1="736.5" x2="400.5" y2="914" stroke-width="3" stroke-linecap="butt"/>
<polyline points="391,904.7 400.5,914.3 410,904.7" fill="none" stroke-width="3" stroke-linejoin="miter"/>
<polyline points="391.3,915.7 400.5,922.7 410,915.7" fill="none" stroke-width="3" stroke-linejoin="miter"/>
<line x1="400.5" y1="922.5" x2="400.5" y2="1226" stroke-width="3" stroke-linecap="butt"/>
<polyline points="391.5,1234.5 400.5,1225.5 409.5,1234.5" fill="none" stroke-width="3" stroke-linejoin="miter"/>
<polyline points="391,1255.3 400.5,1245.5 410,1255.3" fill="none" stroke-width="3" stroke-linejoin="miter"/>
<rect x="382.1" y="716.1" width="34.8" height="3.7" fill="#000" stroke="none"/>
<line x1="382.1" y1="717.5" x2="378" y2="722.5" stroke-width="3" stroke-linecap="butt"/>
<line x1="416.9" y1="717.5" x2="422.8" y2="723.2" stroke-width="3" stroke-linecap="butt"/>
<line x1="422.8" y1="722.6" x2="420.3" y2="724.8" stroke-width="3" stroke-linecap="butt"/>
<rect x="377.1" y="722" width="43.7" height="2.8" fill="#000" stroke="none"/>
<rect x="386" y="724.8" width="2.8" height="3.2" fill="#000" stroke="none"/>
<rect x="409.2" y="724.8" width="3.7" height="3.2" fill="#000" stroke="none"/>
<rect x="377.1" y="728" width="43.7" height="3.7" fill="#000" stroke="none"/>
<rect x="382.3" y="734" width="34.5" height="2.7" fill="#000" stroke="none"/>
<line x1="378.1" y1="731.5" x2="383" y2="736.5" stroke-width="3" stroke-linecap="butt"/>
<line x1="420.3" y1="731.5" x2="416" y2="736.5" stroke-width="3" stroke-linecap="butt"/>
<polyline points="661.8,481 671,488.2 680.2,481" fill="none" stroke-width="3" stroke-linejoin="miter"/>
<line x1="671" y1="488" x2="671" y2="716.5" stroke-width="4" stroke-linecap="butt"/>
<line x1="671" y1="736.5" x2="671" y2="914" stroke-width="4" stroke-linecap="butt"/>
<polyline points="661.5,904.7 671,914.3 680.5,904.7" fill="none" stroke-width="3" stroke-linejoin="miter"/>
<polyline points="661.8,915.7 671,922.7 680.5,915.7" fill="none" stroke-width="3" stroke-linejoin="miter"/>
<line x1="671" y1="922.5" x2="671" y2="1226" stroke-width="4" stroke-linecap="butt"/>
<polyline points="662,1234.5 671,1225.5 680,1234.5" fill="none" stroke-width="3" stroke-linejoin="miter"/>
<polyline points="661.5,1255.3 671,1245.5 680.5,1255.3" fill="none" stroke-width="3" stroke-linejoin="miter"/>
<rect x="652.6" y="716.1" width="34.8" height="3.7" fill="#000" stroke="none"/>
<line x1="652.6" y1="717.5" x2="648.5" y2="722.5" stroke-width="3" stroke-linecap="butt"/>
<line x1="687.4" y1="717.5" x2="693.3" y2="723.2" stroke-width="3" stroke-linecap="butt"/>
<line x1="693.3" y1="722.6" x2="690.8" y2="724.8" stroke-width="3" stroke-linecap="butt"/>
<rect x="647.6" y="722" width="43.7" height="2.8" fill="#000" stroke="none"/>
<rect x="656.5" y="724.8" width="2.8" height="3.2" fill="#000" stroke="none"/>
<rect x="679.7" y="724.8" width="3.7" height="3.2" fill="#000" stroke="none"/>
<rect x="647.6" y="728" width="43.7" height="3.7" fill="#000" stroke="none"/>
<rect x="652.8" y="734" width="34.5" height="2.7" fill="#000" stroke="none"/>
<line x1="648.6" y1="731.5" x2="653.5" y2="736.5" stroke-width="3" stroke-linecap="butt"/>
<line x1="690.8" y1="731.5" x2="686.5" y2="736.5" stroke-width="3" stroke-linecap="butt"/>
<polyline points="929.8,481 939,488.2 948.2,481" fill="none" stroke-width="3" stroke-linejoin="miter"/>
<line x1="939" y1="488" x2="939" y2="716.5" stroke-width="4" stroke-linecap="butt"/>
<line x1="939" y1="736.5" x2="939" y2="914" stroke-width="4" stroke-linecap="butt"/>
<polyline points="929.5,904.7 939,914.3 948.5,904.7" fill="none" stroke-width="3" stroke-linejoin="miter"/>
<polyline points="929.8,915.7 939,922.7 948.5,915.7" fill="none" stroke-width="3" stroke-linejoin="miter"/>
<line x1="939" y1="922.5" x2="939" y2="1226" stroke-width="4" stroke-linecap="butt"/>
<polyline points="930,1234.5 939,1225.5 948,1234.5" fill="none" stroke-width="3" stroke-linejoin="miter"/>
<polyline points="929.5,1255.3 939,1245.5 948.5,1255.3" fill="none" stroke-width="3" stroke-linejoin="miter"/>
<rect x="920.6" y="716.1" width="34.8" height="3.7" fill="#000" stroke="none"/>
<line x1="920.6" y1="717.5" x2="916.5" y2="722.5" stroke-width="3" stroke-linecap="butt"/>
<line x1="955.4" y1="717.5" x2="961.3" y2="723.2" stroke-width="3" stroke-linecap="butt"/>
<line x1="961.3" y1="722.6" x2="958.8" y2="724.8" stroke-width="3" stroke-linecap="butt"/>
<rect x="915.6" y="722" width="43.7" height="2.8" fill="#000" stroke="none"/>
<rect x="924.5" y="724.8" width="2.8" height="3.2" fill="#000" stroke="none"/>
<rect x="947.7" y="724.8" width="3.7" height="3.2" fill="#000" stroke="none"/>
<rect x="915.6" y="728" width="43.7" height="3.7" fill="#000" stroke="none"/>
<rect x="920.8" y="734" width="34.5" height="2.7" fill="#000" stroke="none"/>
<line x1="916.6" y1="731.5" x2="921.5" y2="736.5" stroke-width="3" stroke-linecap="butt"/>
<line x1="958.8" y1="731.5" x2="954.5" y2="736.5" stroke-width="3" stroke-linecap="butt"/>
<polyline points="1195.3,481 1204.5,488.2 1213.7,481" fill="none" stroke-width="3" stroke-linejoin="miter"/>
<line x1="1204.5" y1="488" x2="1204.5" y2="716.5" stroke-width="3" stroke-linecap="butt"/>
<line x1="1204.5" y1="736.5" x2="1204.5" y2="914" stroke-width="3" stroke-linecap="butt"/>
<polyline points="1195,904.7 1204.5,914.3 1214,904.7" fill="none" stroke-width="3" stroke-linejoin="miter"/>
<polyline points="1195.3,915.7 1204.5,922.7 1214,915.7" fill="none" stroke-width="3" stroke-linejoin="miter"/>
<line x1="1204.5" y1="922.5" x2="1204.5" y2="1226" stroke-width="3" stroke-linecap="butt"/>
<polyline points="1195.5,1234.5 1204.5,1225.5 1213.5,1234.5" fill="none" stroke-width="3" stroke-linejoin="miter"/>
<polyline points="1195,1255.3 1204.5,1245.5 1214,1255.3" fill="none" stroke-width="3" stroke-linejoin="miter"/>
<rect x="1186.1" y="716.1" width="34.8" height="3.7" fill="#000" stroke="none"/>
<line x1="1186.1" y1="717.5" x2="1182" y2="722.5" stroke-width="3" stroke-linecap="butt"/>
<line x1="1220.9" y1="717.5" x2="1226.8" y2="723.2" stroke-width="3" stroke-linecap="butt"/>
<line x1="1226.8" y1="722.6" x2="1224.3" y2="724.8" stroke-width="3" stroke-linecap="butt"/>
<rect x="1181.1" y="722" width="43.7" height="2.8" fill="#000" stroke="none"/>
<rect x="1190" y="724.8" width="2.8" height="3.2" fill="#000" stroke="none"/>
<rect x="1213.2" y="724.8" width="3.7" height="3.2" fill="#000" stroke="none"/>
<rect x="1181.1" y="728" width="43.7" height="3.7" fill="#000" stroke="none"/>
<rect x="1186.3" y="734" width="34.5" height="2.7" fill="#000" stroke="none"/>
<line x1="1182.1" y1="731.5" x2="1187" y2="736.5" stroke-width="3" stroke-linecap="butt"/>
<line x1="1224.3" y1="731.5" x2="1220" y2="736.5" stroke-width="3" stroke-linecap="butt"/>
<polyline points="1460.3,481 1469.5,488.2 1478.7,481" fill="none" stroke-width="3" stroke-linejoin="miter"/>
<line x1="1469.5" y1="488" x2="1469.5" y2="716.5" stroke-width="3" stroke-linecap="butt"/>
<line x1="1469.5" y1="736.5" x2="1469.5" y2="914" stroke-width="3" stroke-linecap="butt"/>
<polyline points="1460,904.7 1469.5,914.3 1479,904.7" fill="none" stroke-width="3" stroke-linejoin="miter"/>
<polyline points="1460.3,915.7 1469.5,922.7 1479,915.7" fill="none" stroke-width="3" stroke-linejoin="miter"/>
<line x1="1469.5" y1="922.5" x2="1469.5" y2="1226" stroke-width="3" stroke-linecap="butt"/>
<polyline points="1460.5,1234.5 1469.5,1225.5 1478.5,1234.5" fill="none" stroke-width="3" stroke-linejoin="miter"/>
<polyline points="1460,1255.3 1469.5,1245.5 1479,1255.3" fill="none" stroke-width="3" stroke-linejoin="miter"/>
<rect x="1451.1" y="716.1" width="34.8" height="3.7" fill="#000" stroke="none"/>
<line x1="1451.1" y1="717.5" x2="1447" y2="722.5" stroke-width="3" stroke-linecap="butt"/>
<line x1="1485.9" y1="717.5" x2="1491.8" y2="723.2" stroke-width="3" stroke-linecap="butt"/>
<line x1="1491.8" y1="722.6" x2="1489.3" y2="724.8" stroke-width="3" stroke-linecap="butt"/>
<rect x="1446.1" y="722" width="43.7" height="2.8" fill="#000" stroke="none"/>
<rect x="1455" y="724.8" width="2.8" height="3.2" fill="#000" stroke="none"/>
<rect x="1478.2" y="724.8" width="3.7" height="3.2" fill="#000" stroke="none"/>
<rect x="1446.1" y="728" width="43.7" height="3.7" fill="#000" stroke="none"/>
<rect x="1451.3" y="734" width="34.5" height="2.7" fill="#000" stroke="none"/>
<line x1="1447.1" y1="731.5" x2="1452" y2="736.5" stroke-width="3" stroke-linecap="butt"/>
<line x1="1489.3" y1="731.5" x2="1485" y2="736.5" stroke-width="3" stroke-linecap="butt"/>
<polyline points="1826.3,481 1835.5,488.2 1844.7,481" fill="none" stroke-width="3" stroke-linejoin="miter"/>
<line x1="1835.5" y1="488" x2="1835.5" y2="716.5" stroke-width="3" stroke-linecap="butt"/>
<line x1="1835.5" y1="736.5" x2="1835.5" y2="914" stroke-width="3" stroke-linecap="butt"/>
<polyline points="1826,904.7 1835.5,914.3 1845,904.7" fill="none" stroke-width="3" stroke-linejoin="miter"/>
<polyline points="1826.3,915.7 1835.5,922.7 1845,915.7" fill="none" stroke-width="3" stroke-linejoin="miter"/>
<line x1="1835.5" y1="922.5" x2="1835.5" y2="1226" stroke-width="3" stroke-linecap="butt"/>
<polyline points="1826.5,1234.5 1835.5,1225.5 1844.5,1234.5" fill="none" stroke-width="3" stroke-linejoin="miter"/>
<polyline points="1826,1255.3 1835.5,1245.5 1845,1255.3" fill="none" stroke-width="3" stroke-linejoin="miter"/>
<rect x="1817.1" y="716.1" width="34.8" height="3.7" fill="#000" stroke="none"/>
<line x1="1817.1" y1="717.5" x2="1813" y2="722.5" stroke-width="3" stroke-linecap="butt"/>
<line x1="1851.9" y1="717.5" x2="1857.8" y2="723.2" stroke-width="3" stroke-linecap="butt"/>
<line x1="1857.8" y1="722.6" x2="1855.3" y2="724.8" stroke-width="3" stroke-linecap="butt"/>
<rect x="1812.1" y="722" width="43.7" height="2.8" fill="#000" stroke="none"/>
<rect x="1821" y="724.8" width="2.8" height="3.2" fill="#000" stroke="none"/>
<rect x="1844.2" y="724.8" width="3.7" height="3.2" fill="#000" stroke="none"/>
<rect x="1812.1" y="728" width="43.7" height="3.7" fill="#000" stroke="none"/>
<rect x="1817.3" y="734" width="34.5" height="2.7" fill="#000" stroke="none"/>
<line x1="1813.1" y1="731.5" x2="1818" y2="736.5" stroke-width="3" stroke-linecap="butt"/>
<line x1="1855.3" y1="731.5" x2="1851" y2="736.5" stroke-width="3" stroke-linecap="butt"/>
<text x="330.78" y="515.7" font-size="31.3" textLength="56.33" lengthAdjust="spacingAndGlyphs">F13</text>
<text x="614.28" y="514.6" font-size="31.3" textLength="38.59" lengthAdjust="spacingAndGlyphs">E5</text>
<text x="881.58" y="514.4" font-size="31.3" textLength="41.59" lengthAdjust="spacingAndGlyphs">E8</text>
<text x="1146.77" y="514.4" font-size="31.3" textLength="41.75" lengthAdjust="spacingAndGlyphs">E7</text>
<text x="1414.15" y="514.7" font-size="31.3" textLength="40.48" lengthAdjust="spacingAndGlyphs">E6</text>
<text x="1770.04" y="514.7" font-size="31.3" textLength="57.33" lengthAdjust="spacingAndGlyphs">F12</text>
<text x="1860.53" y="515" font-size="31.3" textLength="37.7" lengthAdjust="spacingAndGlyphs">C1</text>
<text x="439.23" y="566.7" font-size="31.3" textLength="218.81" lengthAdjust="spacingAndGlyphs">0.35 BRN/WHT</text>
<text x="684.11" y="566.2" font-size="31.3" textLength="70.85" lengthAdjust="spacingAndGlyphs">1555</text>
<text x="725.73" y="606.4" font-size="31.3" textLength="61.89" lengthAdjust="spacingAndGlyphs">0.35</text>
<text x="724.46" y="640.4" font-size="31.3" textLength="195.84" lengthAdjust="spacingAndGlyphs">DK BLU/WHT</text>
<text x="945.92" y="640.4" font-size="31.3" textLength="70.66" lengthAdjust="spacingAndGlyphs">1557</text>
<text x="990.73" y="579.7" font-size="31.3" textLength="199.23" lengthAdjust="spacingAndGlyphs">0.35 YEL/BLK</text>
<text x="1215.4" y="579.5" font-size="31.3" textLength="71.17" lengthAdjust="spacingAndGlyphs">1558</text>
<text x="1238.43" y="627.9" font-size="31.3" textLength="218.71" lengthAdjust="spacingAndGlyphs">0.35 RED/WHT</text>
<text x="1483.33" y="628" font-size="31.3" textLength="70.43" lengthAdjust="spacingAndGlyphs">1556</text>
<text x="1610.74" y="623" font-size="31.3" textLength="210.46" lengthAdjust="spacingAndGlyphs">0.35 BLK/WHT</text>
<text x="1846.4" y="623" font-size="31.3" textLength="71.15" lengthAdjust="spacingAndGlyphs">1554</text>
<text x="130.92" y="689.6" font-size="31.3" textLength="255.16" lengthAdjust="spacingAndGlyphs">0.35 LT GRN/BLK</text>
<text x="411.83" y="689.6" font-size="31.3" textLength="47.45" lengthAdjust="spacingAndGlyphs">431</text>
<text x="1869.07" y="740.7" font-size="31.3" textLength="73.75" lengthAdjust="spacingAndGlyphs">P100</text>
<text x="359.38" y="903.9" font-size="31.3" textLength="23.67" lengthAdjust="spacingAndGlyphs">D</text>
<text x="631.99" y="903.9" font-size="31.3" textLength="21.44" lengthAdjust="spacingAndGlyphs">F</text>
<text x="894.55" y="904.2" font-size="31.3" textLength="29.72" lengthAdjust="spacingAndGlyphs">M</text>
<text x="1163.97" y="904.2" font-size="31.3" textLength="24.63" lengthAdjust="spacingAndGlyphs">N</text>
<text x="1428.56" y="904.2" font-size="31.3" textLength="25.53" lengthAdjust="spacingAndGlyphs">G</text>
<text x="1796.55" y="904.6" font-size="31.3" textLength="21.3" lengthAdjust="spacingAndGlyphs">E</text>
<text x="1852.2" y="904.9" font-size="31.3" textLength="76.61" lengthAdjust="spacingAndGlyphs">C108</text>
<text x="439.33" y="1022.1" font-size="31.3" textLength="218.31" lengthAdjust="spacingAndGlyphs">0.35 BRN/WHT</text>
<text x="682.58" y="1022.1" font-size="31.3" textLength="71.8" lengthAdjust="spacingAndGlyphs">1555</text>
<text x="992.13" y="1021" font-size="31.3" textLength="199.43" lengthAdjust="spacingAndGlyphs">0.35 YEL/BLK</text>
<text x="1217.55" y="1021" font-size="31.3" textLength="69.69" lengthAdjust="spacingAndGlyphs">1558</text>
<text x="1612.16" y="1021" font-size="31.3" textLength="206.73" lengthAdjust="spacingAndGlyphs">0.35 BLK/WHT</text>
<text x="1847.26" y="1021" font-size="31.3" textLength="72.41" lengthAdjust="spacingAndGlyphs">1554</text>
<text x="1236.93" y="1088.4" font-size="31.3" textLength="218.91" lengthAdjust="spacingAndGlyphs">0.35 RED/WHT</text>
<text x="1481.23" y="1088.2" font-size="31.3" textLength="70.43" lengthAdjust="spacingAndGlyphs">1556</text>
<text x="131.92" y="1130.3" font-size="31.3" textLength="254.96" lengthAdjust="spacingAndGlyphs">0.35 LT GRN/BLK</text>
<text x="413.42" y="1130.3" font-size="31.3" textLength="48.18" lengthAdjust="spacingAndGlyphs">431</text>
<text x="731.62" y="1115.7" font-size="31.3" textLength="62.3" lengthAdjust="spacingAndGlyphs">0.35</text>
<text x="730.35" y="1149.8" font-size="31.3" textLength="196.55" lengthAdjust="spacingAndGlyphs">DK BLU/WHT</text>
<text x="952.56" y="1149.8" font-size="31.3" textLength="69.28" lengthAdjust="spacingAndGlyphs">1557</text>
<text x="358.83" y="1224.4" font-size="31.3" textLength="23.13" lengthAdjust="spacingAndGlyphs">E</text>
<text x="630.29" y="1224.4" font-size="31.3" textLength="19.95" lengthAdjust="spacingAndGlyphs">F</text>
<text x="900.71" y="1224.4" font-size="31.3" textLength="22.44" lengthAdjust="spacingAndGlyphs">B</text>
<text x="1161.19" y="1222.5" font-size="31.3" textLength="25.37" lengthAdjust="spacingAndGlyphs">D</text>
<text x="1427.85" y="1222.5" font-size="31.3" textLength="23.77" lengthAdjust="spacingAndGlyphs">C</text>
<text x="1797.4" y="1222.5" font-size="31.3" textLength="20.96" lengthAdjust="spacingAndGlyphs">A</text>
<text x="1850.11" y="1222.5" font-size="31.3" textLength="43.19" lengthAdjust="spacingAndGlyphs">C2</text>
<rect x="289.3" y="1240.1" width="9.49" height="4.6" fill="#000" stroke="none"/>
<rect x="313.2" y="1240.1" width="19.8" height="4.6" fill="#000" stroke="none"/>
<rect x="347.41" y="1240.1" width="19.8" height="4.6" fill="#000" stroke="none"/>
<rect x="381.61" y="1240.1" width="19.8" height="4.6" fill="#000" stroke="none"/>
<rect x="415.82" y="1240.1" width="19.8" height="4.6" fill="#000" stroke="none"/>
<rect x="450.03" y="1240.1" width="19.8" height="4.6" fill="#000" stroke="none"/>
<rect x="484.24" y="1240.1" width="19.8" height="4.6" fill="#000" stroke="none"/>
<rect x="518.44" y="1240.1" width="19.8" height="4.6" fill="#000" stroke="none"/>
<rect x="552.65" y="1240.1" width="19.8" height="4.6" fill="#000" stroke="none"/>
<rect x="586.86" y="1240.1" width="19.8" height="4.6" fill="#000" stroke="none"/>
<rect x="621.06" y="1240.1" width="19.8" height="4.6" fill="#000" stroke="none"/>
<rect x="655.27" y="1240.1" width="19.8" height="4.6" fill="#000" stroke="none"/>
<rect x="689.48" y="1240.1" width="19.8" height="4.6" fill="#000" stroke="none"/>
<rect x="723.68" y="1240.1" width="19.8" height="4.6" fill="#000" stroke="none"/>
<rect x="757.89" y="1240.1" width="19.8" height="4.6" fill="#000" stroke="none"/>
<rect x="792.1" y="1240.1" width="19.8" height="4.6" fill="#000" stroke="none"/>
<rect x="826.31" y="1240.1" width="19.8" height="4.6" fill="#000" stroke="none"/>
<rect x="860.51" y="1240.1" width="19.8" height="4.6" fill="#000" stroke="none"/>
<rect x="894.72" y="1240.1" width="19.8" height="4.6" fill="#000" stroke="none"/>
<rect x="928.93" y="1240.1" width="19.8" height="4.6" fill="#000" stroke="none"/>
<rect x="963.13" y="1240.1" width="19.8" height="4.6" fill="#000" stroke="none"/>
<rect x="997.34" y="1240.1" width="19.8" height="4.6" fill="#000" stroke="none"/>
<rect x="1031.55" y="1240.1" width="19.8" height="4.6" fill="#000" stroke="none"/>
<rect x="1065.75" y="1240.1" width="19.8" height="4.6" fill="#000" stroke="none"/>
<rect x="1099.96" y="1240.1" width="19.8" height="4.6" fill="#000" stroke="none"/>
<rect x="1134.17" y="1240.1" width="19.8" height="4.6" fill="#000" stroke="none"/>
<rect x="1168.38" y="1240.1" width="19.8" height="4.6" fill="#000" stroke="none"/>
<rect x="1202.58" y="1240.1" width="19.8" height="4.6" fill="#000" stroke="none"/>
<rect x="1236.79" y="1240.1" width="19.8" height="4.6" fill="#000" stroke="none"/>
<rect x="1271" y="1240.1" width="19.8" height="4.6" fill="#000" stroke="none"/>
<rect x="1305.2" y="1240.1" width="19.8" height="4.6" fill="#000" stroke="none"/>
<rect x="1339.41" y="1240.1" width="19.8" height="4.6" fill="#000" stroke="none"/>
<rect x="1373.62" y="1240.1" width="19.8" height="4.6" fill="#000" stroke="none"/>
<rect x="1407.82" y="1240.1" width="19.8" height="4.6" fill="#000" stroke="none"/>
<rect x="1442.03" y="1240.1" width="19.8" height="4.6" fill="#000" stroke="none"/>
<rect x="1476.24" y="1240.1" width="19.8" height="4.6" fill="#000" stroke="none"/>
<rect x="1510.45" y="1240.1" width="19.8" height="4.6" fill="#000" stroke="none"/>
<rect x="1544.65" y="1240.1" width="19.8" height="4.6" fill="#000" stroke="none"/>
<rect x="1578.86" y="1240.1" width="19.8" height="4.6" fill="#000" stroke="none"/>
<rect x="1613.07" y="1240.1" width="19.8" height="4.6" fill="#000" stroke="none"/>
<rect x="1647.27" y="1240.1" width="19.8" height="4.6" fill="#000" stroke="none"/>
<rect x="1681.48" y="1240.1" width="19.8" height="4.6" fill="#000" stroke="none"/>
<rect x="1715.69" y="1240.1" width="19.8" height="4.6" fill="#000" stroke="none"/>
<rect x="1749.89" y="1240.1" width="19.8" height="4.6" fill="#000" stroke="none"/>
<rect x="1784.1" y="1240.1" width="19.8" height="4.6" fill="#000" stroke="none"/>
<rect x="1818.31" y="1240.1" width="19.8" height="4.6" fill="#000" stroke="none"/>
<rect x="1852.52" y="1240.1" width="19.8" height="4.6" fill="#000" stroke="none"/>
<rect x="1886.72" y="1240.1" width="19.8" height="4.6" fill="#000" stroke="none"/>
<rect x="1920.93" y="1240.1" width="19.8" height="4.6" fill="#000" stroke="none"/>
<rect x="1955.14" y="1240.1" width="19.8" height="4.6" fill="#000" stroke="none"/>
<rect x="1989.34" y="1240.1" width="19.8" height="4.6" fill="#000" stroke="none"/>
<rect x="2023.55" y="1240.1" width="19.8" height="4.6" fill="#000" stroke="none"/>
<rect x="2057.76" y="1240.1" width="19.8" height="4.6" fill="#000" stroke="none"/>
<rect x="2091.96" y="1240.1" width="11.04" height="4.6" fill="#000" stroke="none"/>
<rect x="289.3" y="1490.9" width="9.49" height="4.6" fill="#000" stroke="none"/>
<rect x="313.2" y="1490.9" width="19.8" height="4.6" fill="#000" stroke="none"/>
<rect x="347.41" y="1490.9" width="19.8" height="4.6" fill="#000" stroke="none"/>
<rect x="381.61" y="1490.9" width="19.8" height="4.6" fill="#000" stroke="none"/>
<rect x="415.82" y="1490.9" width="19.8" height="4.6" fill="#000" stroke="none"/>
<rect x="450.03" y="1490.9" width="19.8" height="4.6" fill="#000" stroke="none"/>
<rect x="484.24" y="1490.9" width="19.8" height="4.6" fill="#000" stroke="none"/>
<rect x="518.44" y="1490.9" width="19.8" height="4.6" fill="#000" stroke="none"/>
<rect x="552.65" y="1490.9" width="19.8" height="4.6" fill="#000" stroke="none"/>
<rect x="586.86" y="1490.9" width="19.8" height="4.6" fill="#000" stroke="none"/>
<rect x="621.06" y="1490.9" width="19.8" height="4.6" fill="#000" stroke="none"/>
<rect x="655.27" y="1490.9" width="19.8" height="4.6" fill="#000" stroke="none"/>
<rect x="689.48" y="1490.9" width="19.8" height="4.6" fill="#000" stroke="none"/>
<rect x="723.68" y="1490.9" width="19.8" height="4.6" fill="#000" stroke="none"/>
<rect x="757.89" y="1490.9" width="19.8" height="4.6" fill="#000" stroke="none"/>
<rect x="792.1" y="1490.9" width="19.8" height="4.6" fill="#000" stroke="none"/>
<rect x="826.31" y="1490.9" width="19.8" height="4.6" fill="#000" stroke="none"/>
<rect x="860.51" y="1490.9" width="19.8" height="4.6" fill="#000" stroke="none"/>
<rect x="894.72" y="1490.9" width="19.8" height="4.6" fill="#000" stroke="none"/>
<rect x="928.93" y="1490.9" width="19.8" height="4.6" fill="#000" stroke="none"/>
<rect x="963.13" y="1490.9" width="19.8" height="4.6" fill="#000" stroke="none"/>
<rect x="997.34" y="1490.9" width="19.8" height="4.6" fill="#000" stroke="none"/>
<rect x="1031.55" y="1490.9" width="19.8" height="4.6" fill="#000" stroke="none"/>
<rect x="1065.75" y="1490.9" width="19.8" height="4.6" fill="#000" stroke="none"/>
<rect x="1099.96" y="1490.9" width="19.8" height="4.6" fill="#000" stroke="none"/>
<rect x="1134.17" y="1490.9" width="19.8" height="4.6" fill="#000" stroke="none"/>
<rect x="1168.38" y="1490.9" width="19.8" height="4.6" fill="#000" stroke="none"/>
<rect x="1202.58" y="1490.9" width="19.8" height="4.6" fill="#000" stroke="none"/>
<rect x="1236.79" y="1490.9" width="19.8" height="4.6" fill="#000" stroke="none"/>
<rect x="1271" y="1490.9" width="19.8" height="4.6" fill="#000" stroke="none"/>
<rect x="1305.2" y="1490.9" width="19.8" height="4.6" fill="#000" stroke="none"/>
<rect x="1339.41" y="1490.9" width="19.8" height="4.6" fill="#000" stroke="none"/>
<rect x="1373.62" y="1490.9" width="19.8" height="4.6" fill="#000" stroke="none"/>
<rect x="1407.82" y="1490.9" width="19.8" height="4.6" fill="#000" stroke="none"/>
<rect x="1442.03" y="1490.9" width="19.8" height="4.6" fill="#000" stroke="none"/>
<rect x="1476.24" y="1490.9" width="19.8" height="4.6" fill="#000" stroke="none"/>
<rect x="1510.45" y="1490.9" width="19.8" height="4.6" fill="#000" stroke="none"/>
<rect x="1544.65" y="1490.9" width="19.8" height="4.6" fill="#000" stroke="none"/>
<rect x="1578.86" y="1490.9" width="19.8" height="4.6" fill="#000" stroke="none"/>
<rect x="1613.07" y="1490.9" width="19.8" height="4.6" fill="#000" stroke="none"/>
<rect x="1647.27" y="1490.9" width="19.8" height="4.6" fill="#000" stroke="none"/>
<rect x="1681.48" y="1490.9" width="19.8" height="4.6" fill="#000" stroke="none"/>
<rect x="1715.69" y="1490.9" width="19.8" height="4.6" fill="#000" stroke="none"/>
<rect x="1749.89" y="1490.9" width="19.8" height="4.6" fill="#000" stroke="none"/>
<rect x="1784.1" y="1490.9" width="19.8" height="4.6" fill="#000" stroke="none"/>
<rect x="1818.31" y="1490.9" width="19.8" height="4.6" fill="#000" stroke="none"/>
<rect x="1852.52" y="1490.9" width="19.8" height="4.6" fill="#000" stroke="none"/>
<rect x="1886.72" y="1490.9" width="19.8" height="4.6" fill="#000" stroke="none"/>
<rect x="1920.93" y="1490.9" width="19.8" height="4.6" fill="#000" stroke="none"/>
<rect x="1955.14" y="1490.9" width="19.8" height="4.6" fill="#000" stroke="none"/>
<rect x="1989.34" y="1490.9" width="19.8" height="4.6" fill="#000" stroke="none"/>
<rect x="2023.55" y="1490.9" width="19.8" height="4.6" fill="#000" stroke="none"/>
<rect x="2057.76" y="1490.9" width="19.8" height="4.6" fill="#000" stroke="none"/>
<rect x="2091.96" y="1490.9" width="11.04" height="4.6" fill="#000" stroke="none"/>
<rect x="289.3" y="1240.1" width="4.6" height="11.34" fill="#000" stroke="none"/>
<rect x="289.3" y="1266.4" width="4.6" height="21.3" fill="#000" stroke="none"/>
<rect x="289.3" y="1302.66" width="4.6" height="21.3" fill="#000" stroke="none"/>
<rect x="289.3" y="1338.92" width="4.6" height="21.3" fill="#000" stroke="none"/>
<rect x="289.3" y="1375.18" width="4.6" height="21.3" fill="#000" stroke="none"/>
<rect x="289.3" y="1411.44" width="4.6" height="21.3" fill="#000" stroke="none"/>
<rect x="289.3" y="1447.7" width="4.6" height="21.3" fill="#000" stroke="none"/>
<rect x="289.3" y="1483.96" width="4.6" height="11.54" fill="#000" stroke="none"/>
<rect x="2098.4" y="1240.1" width="4.6" height="11.54" fill="#000" stroke="none"/>
<rect x="2098.4" y="1266.6" width="4.6" height="21.3" fill="#000" stroke="none"/>
<rect x="2098.4" y="1302.86" width="4.6" height="21.3" fill="#000" stroke="none"/>
<rect x="2098.4" y="1339.12" width="4.6" height="21.3" fill="#000" stroke="none"/>
<rect x="2098.4" y="1375.38" width="4.6" height="21.3" fill="#000" stroke="none"/>
<rect x="2098.4" y="1411.64" width="4.6" height="21.3" fill="#000" stroke="none"/>
<rect x="2098.4" y="1447.9" width="4.6" height="21.3" fill="#000" stroke="none"/>
<rect x="2098.4" y="1484.16" width="4.6" height="11.34" fill="#000" stroke="none"/>
<text x="2111.25" y="1263.1" font-size="32.5" textLength="118.97" lengthAdjust="spacingAndGlyphs">Transfer</text>
<text x="2110.29" y="1298.3" font-size="32.5" textLength="75.25" lengthAdjust="spacingAndGlyphs">Case</text>
<text x="2109.36" y="1331.4" font-size="32.5" textLength="118.16" lengthAdjust="spacingAndGlyphs">Encoder</text>
<text x="2109.33" y="1366.3" font-size="32.5" textLength="82.19" lengthAdjust="spacingAndGlyphs">Motor</text>
<rect x="1904.3" y="1315.3" width="125.1" height="89.9" fill="none" stroke-width="5"/>
<rect x="1904" y="1343" width="126" height="3" fill="#000" stroke="none"/>
<text x="1919.77" y="1338.1" font-size="24.4" textLength="95.4" lengthAdjust="spacingAndGlyphs">CONN ID</text>
<text x="1911.98" y="1371.6" font-size="21.8" textLength="103.08" lengthAdjust="spacingAndGlyphs">C1=4 BLK</text>
<text x="1911.97" y="1397.4" font-size="23.2" textLength="104.1" lengthAdjust="spacingAndGlyphs">C2=6 BLK</text>
<polyline points="400.5,1245.5 400.5,1440 1615.4,1440 1615.4,1364" fill="none" stroke-width="3.3" stroke-linejoin="miter"/>
<path d="M693.6,1344.5 V1401.5 H806.1 A9.2,9.2 0 0 1 824.5,1401.5 H1075.7 A9.2,9.2 0 0 1 1094.1,1401.5 H1341.5 A9.2,9.2 0 0 1 1359.9,1401.5 H1606.2 A9.2,9.2 0 0 1 1624.6,1401.5 H1835.5 V1245.5" fill="none" stroke-width="3" stroke-linejoin="miter"/>
<rect x="772.45" y="1294.05" width="86.4" height="68.3" fill="none" stroke-width="4.3"/>
<line x1="815.3" y1="1364" x2="815.3" y2="1440" stroke-width="3" stroke-linecap="butt"/>
<text x="787.76" y="1322.3" font-size="23.7" textLength="39.6" lengthAdjust="spacingAndGlyphs">Hall</text>
<text x="787.77" y="1349" font-size="23.7" textLength="58.02" lengthAdjust="spacingAndGlyphs">Effect</text>
<rect x="1042.05" y="1294.05" width="86.4" height="68.3" fill="none" stroke-width="4.3"/>
<line x1="1084.9" y1="1364" x2="1084.9" y2="1440" stroke-width="3" stroke-linecap="butt"/>
<text x="1057.36" y="1322.3" font-size="23.7" textLength="39.6" lengthAdjust="spacingAndGlyphs">Hall</text>
<text x="1057.37" y="1349" font-size="23.7" textLength="58.02" lengthAdjust="spacingAndGlyphs">Effect</text>
<rect x="1307.85" y="1294.05" width="86.4" height="68.3" fill="none" stroke-width="4.3"/>
<line x1="1350.7" y1="1364" x2="1350.7" y2="1440" stroke-width="3" stroke-linecap="butt"/>
<text x="1323.16" y="1322.3" font-size="23.7" textLength="39.6" lengthAdjust="spacingAndGlyphs">Hall</text>
<text x="1323.17" y="1349" font-size="23.7" textLength="58.02" lengthAdjust="spacingAndGlyphs">Effect</text>
<rect x="1572.55" y="1294.05" width="86.4" height="68.3" fill="none" stroke-width="4.3"/>
<line x1="1615.4" y1="1364" x2="1615.4" y2="1440" stroke-width="3" stroke-linecap="butt"/>
<text x="1587.86" y="1322.3" font-size="23.7" textLength="39.6" lengthAdjust="spacingAndGlyphs">Hall</text>
<text x="1587.87" y="1349" font-size="23.7" textLength="58.02" lengthAdjust="spacingAndGlyphs">Effect</text>
<circle cx="815.3" cy="1440" r="5.2" fill="#000" stroke="none"/>
<circle cx="1084.9" cy="1440" r="5.2" fill="#000" stroke="none"/>
<circle cx="1350.7" cy="1440" r="5.2" fill="#000" stroke="none"/>
<line x1="671" y1="1245.5" x2="671" y2="1301.4" stroke-width="3" stroke-linecap="butt"/>
<circle cx="671" cy="1301.4" r="5.3" fill="#000" stroke="none"/>
<circle cx="648.4" cy="1344.4" r="5.5" fill="#000" stroke="none"/>
<circle cx="693.6" cy="1344.4" r="5.3" fill="#000" stroke="none"/>
<line x1="671" y1="1301.4" x2="653.5" y2="1333.5" stroke-width="3.4" stroke-linecap="butt"/>
<polygon points="651.2,1339 654.8,1320.9 658.2,1328 664.3,1326.1" fill="#000" stroke="none"/>
<line x1="693.6" y1="1344.5" x2="693.6" y2="1401.5" stroke-width="3" stroke-linecap="butt"/>
<path d="M654,1351 Q670,1360 687.5,1351.8" fill="none" stroke-width="2" stroke-dasharray="4.5 4"/>
<line x1="939" y1="1245.5" x2="939" y2="1301.4" stroke-width="3" stroke-linecap="butt"/>
<circle cx="939" cy="1301.4" r="5.3" fill="#000" stroke="none"/>
<circle cx="916.4" cy="1344.4" r="5.5" fill="#000" stroke="none"/>
<circle cx="961.6" cy="1344.4" r="5.3" fill="#000" stroke="none"/>
<line x1="939" y1="1301.4" x2="921.5" y2="1333.5" stroke-width="3.4" stroke-linecap="butt"/>
<polygon points="919.2,1339 922.8,1320.9 926.2,1328 932.3,1326.1" fill="#000" stroke="none"/>
<line x1="961.6" y1="1344.5" x2="961.6" y2="1401.5" stroke-width="3" stroke-linecap="butt"/>
<path d="M922,1351 Q938,1360 955.5,1351.8" fill="none" stroke-width="2" stroke-dasharray="4.5 4"/>
<line x1="1204.5" y1="1245.5" x2="1204.5" y2="1301.4" stroke-width="3" stroke-linecap="butt"/>
<circle cx="1204.5" cy="1301.4" r="5.3" fill="#000" stroke="none"/>
<circle cx="1181.9" cy="1344.4" r="5.5" fill="#000" stroke="none"/>
<circle cx="1227.1" cy="1344.4" r="5.3" fill="#000" stroke="none"/>
<line x1="1204.5" y1="1301.4" x2="1187" y2="1333.5" stroke-width="3.4" stroke-linecap="butt"/>
<polygon points="1184.7,1339 1188.3,1320.9 1191.7,1328 1197.8,1326.1" fill="#000" stroke="none"/>
<line x1="1227.1" y1="1344.5" x2="1227.1" y2="1401.5" stroke-width="3.7" stroke-linecap="butt"/>
<path d="M1187.5,1351 Q1203.5,1360 1221,1351.8" fill="none" stroke-width="2" stroke-dasharray="4.5 4"/>
<line x1="1469.5" y1="1245.5" x2="1469.5" y2="1301.4" stroke-width="3" stroke-linecap="butt"/>
<circle cx="1469.5" cy="1301.4" r="5.3" fill="#000" stroke="none"/>
<circle cx="1446.9" cy="1344.4" r="5.5" fill="#000" stroke="none"/>
<circle cx="1492.1" cy="1344.4" r="5.3" fill="#000" stroke="none"/>
<line x1="1469.5" y1="1301.4" x2="1452" y2="1333.5" stroke-width="3.4" stroke-linecap="butt"/>
<polygon points="1449.7,1339 1453.3,1320.9 1456.7,1328 1462.8,1326.1" fill="#000" stroke="none"/>
<line x1="1492.1" y1="1344.5" x2="1492.1" y2="1401.5" stroke-width="3.7" stroke-linecap="butt"/>
<path d="M1452.5,1351 Q1468.5,1360 1486,1351.8" fill="none" stroke-width="2" stroke-dasharray="4.5 4"/>
<circle cx="961.6" cy="1401.5" r="5" fill="#000" stroke="none"/>
<circle cx="1227.1" cy="1401.5" r="5" fill="#000" stroke="none"/>
<circle cx="1492.1" cy="1401.5" r="5" fill="#000" stroke="none"/>
</g>
</svg>
</body></html>
